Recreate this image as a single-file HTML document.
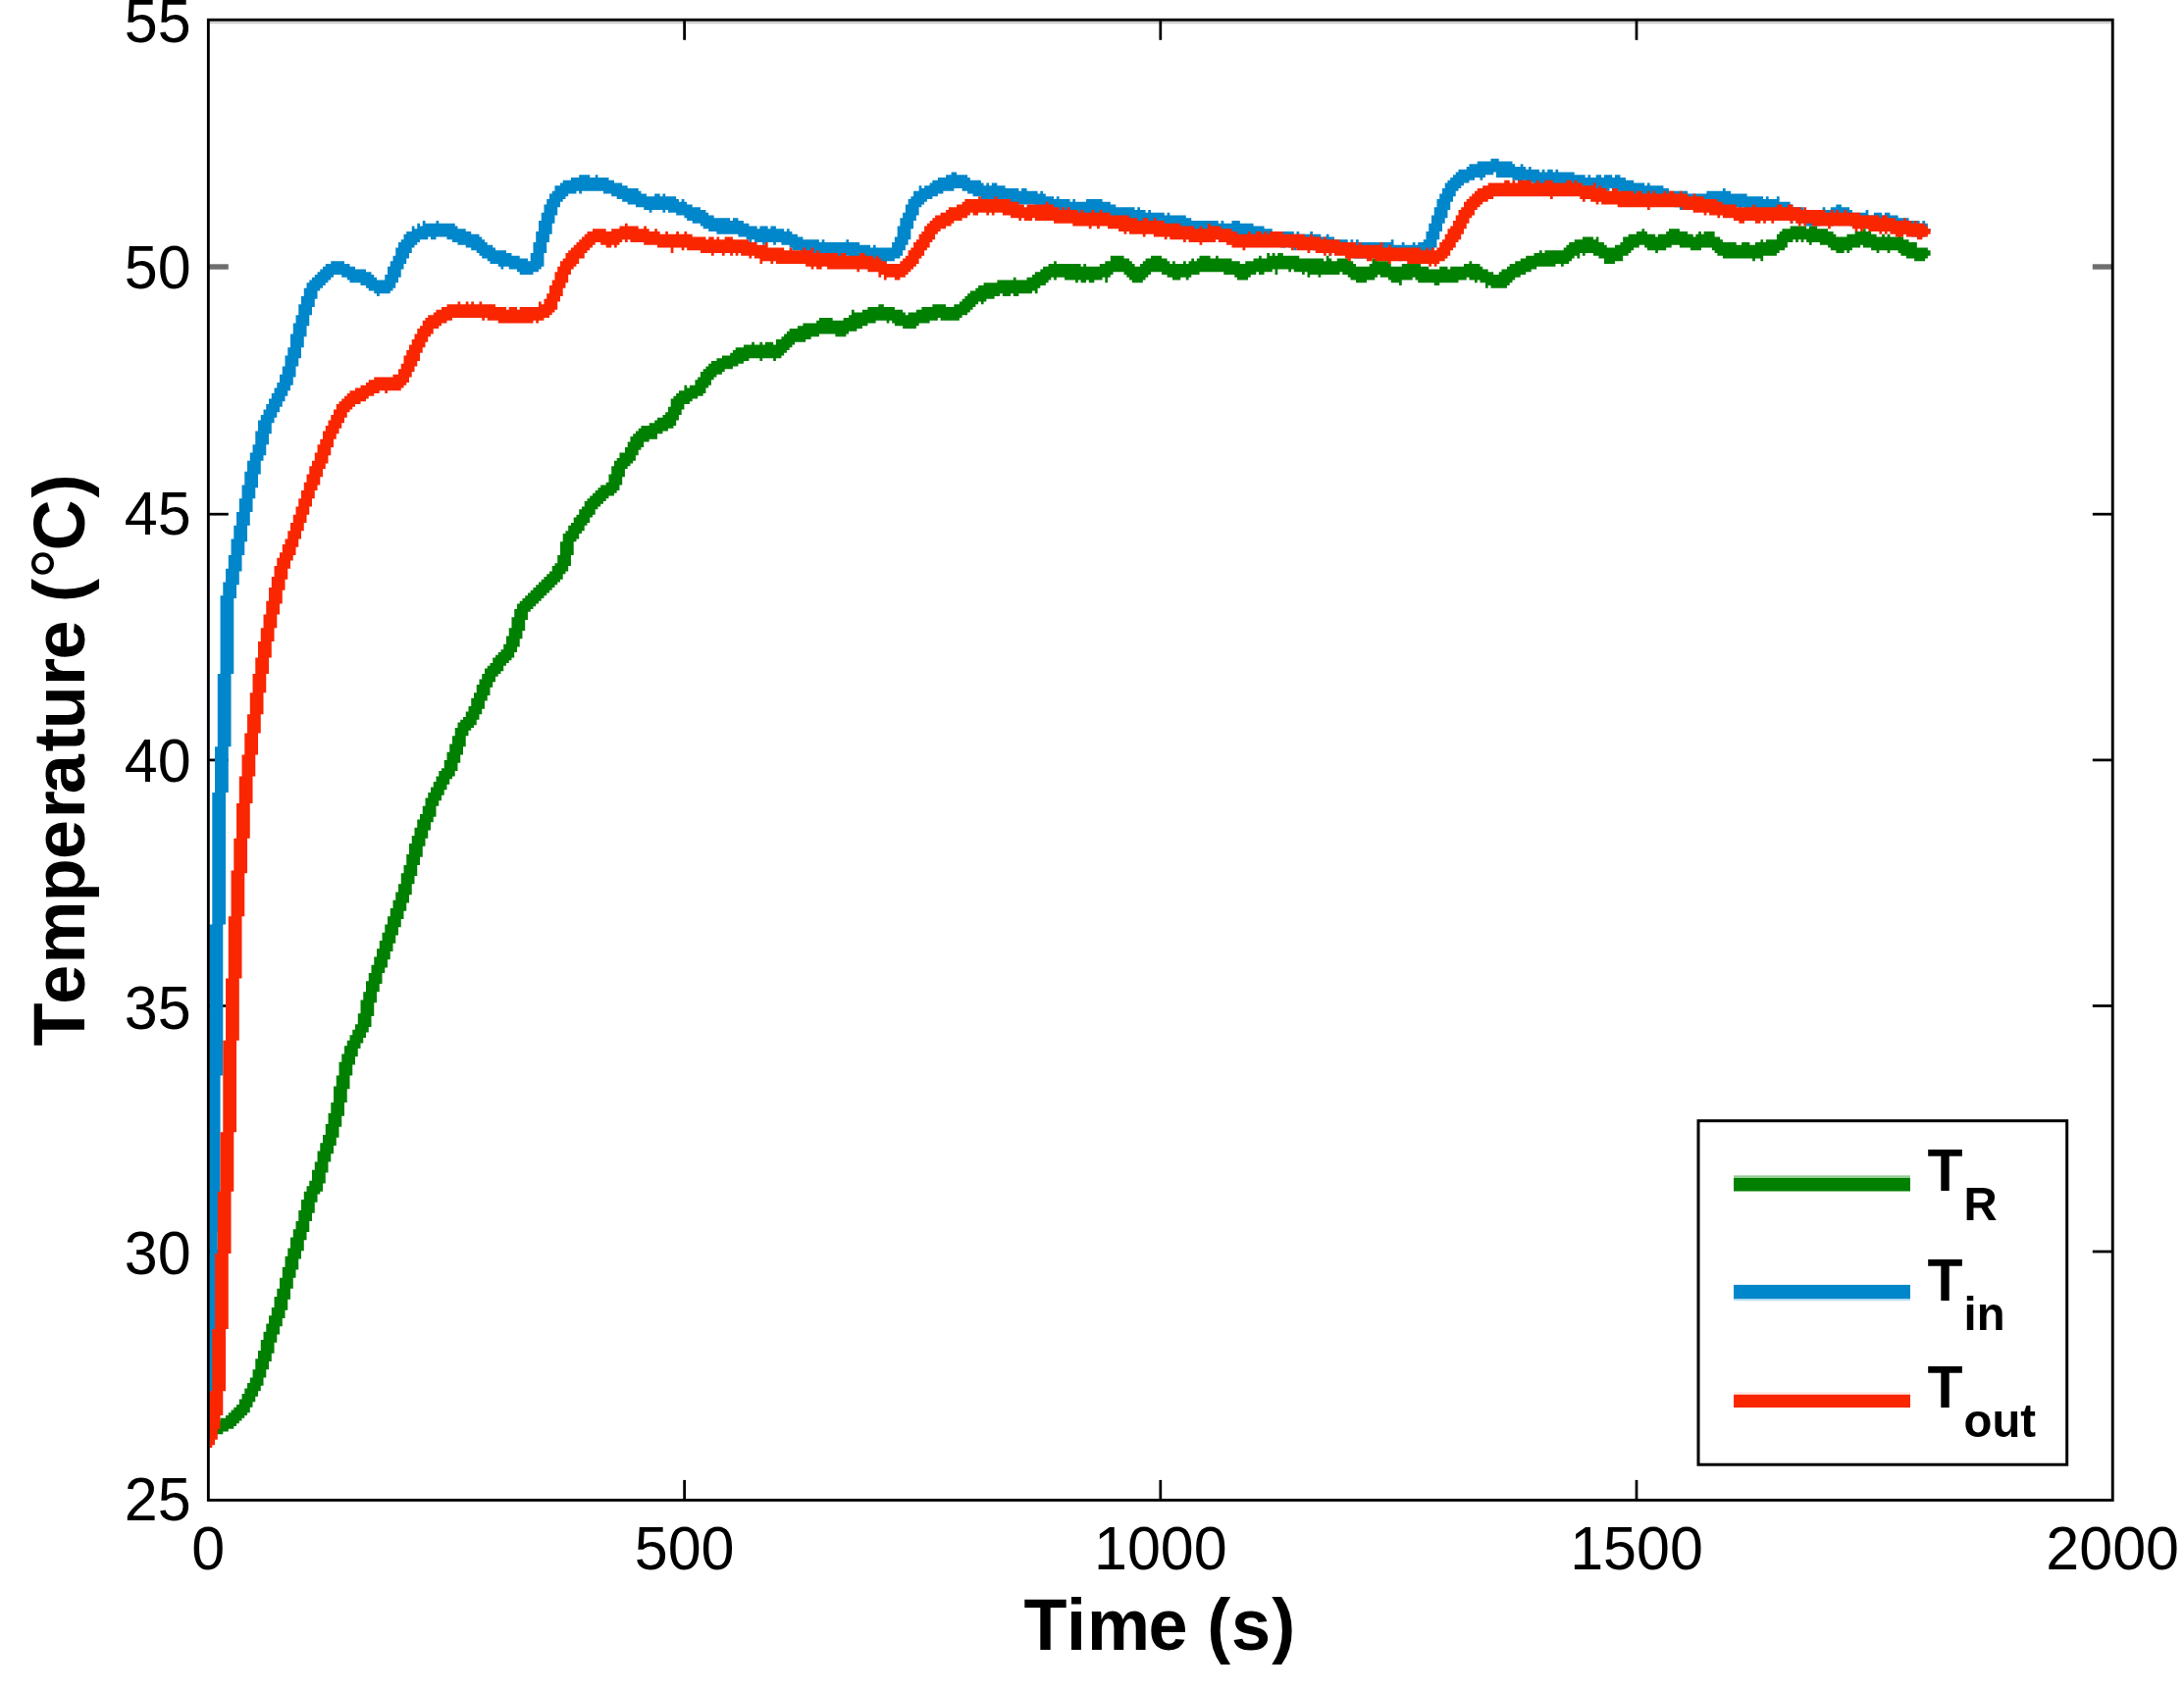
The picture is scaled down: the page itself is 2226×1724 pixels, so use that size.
<!DOCTYPE html>
<html lang="en">
<head>
<meta charset="utf-8">
<title>Temperature vs Time</title>
<style>
html,body{margin:0;padding:0;background:#fff;}
body{width:2226px;height:1724px;overflow:hidden;}
svg{display:block;}
text{font-family:"Liberation Sans",sans-serif;fill:#000;}
.tk{font-size:61px;}
.lb{font-size:72px;font-weight:bold;}
.deg{font-size:80px;font-weight:normal;}
.lg{font-size:59px;font-weight:bold;}
.sub{font-size:47.3px;font-weight:bold;}
</style>
</head>
<body>
<svg width="2226" height="1724" viewBox="0 0 2226 1724">
<defs><filter id="soft" filterUnits="userSpaceOnUse" x="0" y="0" width="2226" height="1724"><feGaussianBlur stdDeviation="0.55"/></filter></defs>
<rect x="0" y="0" width="2226" height="1724" fill="#ffffff"/>
<!-- faint shadow under top axis line -->
<line x1="213.85" y1="23.2" x2="2151.75" y2="23.2" stroke="#cacaca" stroke-width="2.1"/>
<!-- ticks -->
<g stroke="#000" stroke-width="2.75">
<line x1="212.3" y1="1276.0" x2="232.8" y2="1276.0"/><line x1="2153.2" y1="1276.0" x2="2132.8" y2="1276.0"/><line x1="212.3" y1="1025.5" x2="232.8" y2="1025.5"/><line x1="2153.2" y1="1025.5" x2="2132.8" y2="1025.5"/><line x1="212.3" y1="774.9" x2="232.8" y2="774.9"/><line x1="2153.2" y1="774.9" x2="2132.8" y2="774.9"/><line x1="212.3" y1="524.2" x2="232.8" y2="524.2"/><line x1="2153.2" y1="524.2" x2="2132.8" y2="524.2"/><line x1="697.6" y1="20.2" x2="697.6" y2="40.8"/><line x1="697.6" y1="1529.4" x2="697.6" y2="1508.9"/><line x1="1182.8" y1="20.2" x2="1182.8" y2="40.8"/><line x1="1182.8" y1="1529.4" x2="1182.8" y2="1508.9"/><line x1="1668.0" y1="20.2" x2="1668.0" y2="40.8"/><line x1="1668.0" y1="1529.4" x2="1668.0" y2="1508.9"/>
</g>
<g stroke="#6e6e6e" stroke-width="5.4"><line x1="212.3" y1="272.0" x2="232.8" y2="272.0"/><line x1="2153.2" y1="272.0" x2="2132.8" y2="272.0"/></g>
<!-- data curves -->
<g filter="url(#soft)">
<path fill="#008000" d="M213.55 1448.54V1462.29H216.29V1448.54ZM216.29 1448.54V1462.29H219.04V1448.54ZM219.04 1448.54V1462.29H221.79V1448.54ZM221.79 1448.54V1462.29H224.54V1448.54ZM224.54 1445.79V1462.29H227.29V1445.79ZM227.29 1445.79V1459.54H230.04V1445.79ZM230.04 1443.04V1459.54H232.79V1443.04ZM232.79 1440.29V1456.79H235.54V1440.29ZM235.54 1437.54V1456.79H238.29V1437.54ZM238.29 1434.79V1454.04H241.04V1434.79ZM241.04 1432.04V1451.29H243.79V1432.04ZM243.79 1426.54V1448.54H246.54V1426.54ZM246.54 1421.04V1445.79H249.29V1421.04ZM249.29 1415.54V1443.04H252.04V1415.54ZM252.04 1410.04V1440.29H254.78V1410.04ZM254.78 1404.55V1434.79H257.53V1404.55ZM257.53 1396.30V1429.29H260.28V1396.30ZM260.28 1385.30V1423.79H263.03V1385.30ZM263.03 1377.05V1418.29H265.78V1377.05ZM265.78 1366.05V1412.79H268.53V1366.05ZM268.53 1357.80V1404.55H271.28V1357.80ZM271.28 1349.55V1396.30H274.03V1349.55ZM274.03 1341.30V1388.05H276.78V1341.30ZM276.78 1333.06V1379.80H279.53V1333.06ZM279.53 1322.06V1368.80H282.28V1322.06ZM282.28 1313.81V1360.55H285.03V1313.81ZM285.03 1302.81V1352.30H287.78V1302.81ZM287.78 1291.81V1344.05H290.53V1291.81ZM290.53 1280.81V1335.81H293.28V1280.81ZM293.28 1272.56V1324.81H296.02V1272.56ZM296.02 1261.57V1313.81H298.77V1261.57ZM298.77 1253.32V1302.81H301.52V1253.32ZM301.52 1245.07V1294.56H304.27V1245.07ZM304.27 1234.07V1283.56H307.02V1234.07ZM307.02 1223.07V1275.31H309.77V1223.07ZM309.77 1214.82V1264.32H312.52V1214.82ZM312.52 1209.32V1256.07H315.27V1209.32ZM315.27 1203.82V1245.07H318.02V1203.82ZM318.02 1192.83V1236.82H320.77V1192.83ZM320.77 1184.58V1225.82H323.52V1184.58ZM323.52 1173.58V1217.57H326.27V1173.58ZM326.27 1165.33V1214.82H329.02V1165.33ZM329.02 1157.08V1206.57H331.77V1157.08ZM331.77 1146.08V1195.58H334.51V1146.08ZM334.51 1135.08V1184.58H337.26V1135.08ZM337.26 1124.09V1176.33H340.01V1124.09ZM340.01 1107.59V1168.08H342.76V1107.59ZM342.76 1096.59V1159.83H345.51V1096.59ZM345.51 1082.84V1148.83H348.26V1082.84ZM348.26 1074.59V1137.83H351.01V1074.59ZM351.01 1066.34V1124.09H353.76V1066.34ZM353.76 1060.85V1110.34H356.51V1060.85ZM356.51 1055.35V1096.59H359.26V1055.35ZM359.26 1049.85V1085.59H362.01V1049.85ZM362.01 1044.35V1077.34H364.76V1044.35ZM364.76 1033.35V1069.09H367.51V1033.35ZM367.51 1019.60V1063.60H370.26V1019.60ZM370.26 1011.35V1058.10H373.00V1011.35ZM373.00 1000.35V1052.60H375.75V1000.35ZM375.75 992.11V1047.10H378.50V992.11ZM378.50 983.86V1036.10H381.25V983.86ZM381.25 975.61V1022.35H384.00V975.61ZM384.00 967.36V1011.35H386.75V967.36ZM386.75 959.11V1003.10H389.50V959.11ZM389.50 950.86V992.11H392.25V950.86ZM392.25 942.61V986.61H395.00V942.61ZM395.00 934.36V978.36H397.75V934.36ZM397.75 926.12V970.11H400.50V926.12ZM400.50 917.87V961.86H403.25V917.87ZM403.25 909.62V953.61H406.00V909.62ZM406.00 901.37V945.36H408.75V901.37ZM408.75 890.37V937.11H411.50V890.37ZM411.50 882.12V928.86H414.24V882.12ZM414.24 871.12V920.62H416.99V871.12ZM416.99 860.12V912.37H419.74V860.12ZM419.74 851.88V901.37H422.49V851.88ZM422.49 843.63V893.12H425.24V843.63ZM425.24 835.38V882.12H427.99V835.38ZM427.99 829.88V873.87H430.74V829.88ZM430.74 821.63V862.87H433.49V821.63ZM433.49 813.38V854.63H436.24V813.38ZM436.24 807.88V846.38H438.99V807.88ZM438.99 802.38V838.13H441.74V802.38ZM441.74 796.88V832.63H444.49V796.88ZM444.49 791.38V821.63H447.24V791.38ZM447.24 785.89V816.13H449.99V785.89ZM449.99 783.14V810.63H452.73V783.14ZM452.73 774.89V805.13H455.48V774.89ZM455.48 766.64V799.63H458.23V766.64ZM458.23 758.39V794.13H460.98V758.39ZM460.98 750.14V791.38H463.73V750.14ZM463.73 741.89V785.89H466.48V741.89ZM466.48 736.39V777.64H469.23V736.39ZM469.23 733.64V769.39H471.98V733.64ZM471.98 730.89V761.14H474.73V730.89ZM474.73 725.39V750.14H477.48V725.39ZM477.48 719.90V744.64H480.23V719.90ZM480.23 711.65V741.89H482.98V711.65ZM482.98 706.15V739.14H485.73V706.15ZM485.73 697.90V733.64H488.48V697.90ZM488.48 692.40V728.14H491.22V692.40ZM491.22 686.90V722.64H493.97V686.90ZM493.97 681.40V714.40H496.72V681.40ZM496.72 678.65V708.90H499.47V678.65ZM499.47 675.90V700.65H502.22V675.90ZM502.22 670.40V695.15H504.97V670.40ZM504.97 667.65V689.65H507.72V667.65ZM507.72 664.90V686.90H510.47V664.90ZM510.47 662.15V684.15H513.22V662.15ZM513.22 656.65V678.65H515.97V656.65ZM515.97 648.41V675.90H518.72V648.41ZM518.72 640.16V673.15H521.47V640.16ZM521.47 629.16V670.40H524.22V629.16ZM524.22 620.91V664.90H526.97V620.91ZM526.97 615.41V659.40H529.71V615.41ZM529.71 612.66V651.16H532.46V612.66ZM532.46 609.91V642.91H535.21V609.91ZM535.21 607.16V631.91H537.96V607.16ZM537.96 604.41V623.66H540.71V604.41ZM540.71 601.66V620.91H543.46V601.66ZM543.46 598.91V618.16H546.21V598.91ZM546.21 596.16V615.41H548.96V596.16ZM548.96 593.41V612.66H551.71V593.41ZM551.71 590.66V609.91H554.46V590.66ZM554.46 587.91V607.16H557.21V587.91ZM557.21 585.16V604.41H559.96V585.16ZM559.96 582.42V601.66H562.71V582.42ZM562.71 576.92V598.91H565.46V576.92ZM565.46 574.17V596.16H568.21V574.17ZM568.21 565.92V593.41H570.95V565.92ZM570.95 552.17V590.66H573.70V552.17ZM573.70 543.92V585.16H576.45V543.92ZM576.45 541.17V582.42H579.20V541.17ZM579.20 535.67V576.92H581.95V535.67ZM581.95 532.92V565.92H584.70V532.92ZM584.70 527.42V552.17H587.45V527.42ZM587.45 524.67V549.42H590.20V524.67ZM590.20 519.17V543.92H592.95V519.17ZM592.95 516.42V541.17H595.70V516.42ZM595.70 510.93V535.67H598.45V510.93ZM598.45 508.18V532.92H601.20V508.18ZM601.20 505.43V527.42H603.95V505.43ZM603.95 502.68V524.67H606.70V502.68ZM606.70 499.93V519.17H609.44V499.93ZM609.44 497.18V516.42H612.19V497.18ZM612.19 494.43V513.68H614.94V494.43ZM614.94 494.43V510.93H617.69V494.43ZM617.69 491.68V508.18H620.44V491.68ZM620.44 483.43V505.43H623.19V483.43ZM623.19 475.18V505.43H625.94V475.18ZM625.94 469.68V502.68H628.69V469.68ZM628.69 466.93V499.93H631.44V466.93ZM631.44 461.43V494.43H634.19V461.43ZM634.19 461.43V486.18H636.94V461.43ZM636.94 455.93V477.93H639.69V455.93ZM639.69 450.43V475.18H642.44V450.43ZM642.44 444.94V472.43H645.19V444.94ZM645.19 442.19V469.68H647.93V442.19ZM647.93 439.44V464.18H650.68V439.44ZM650.68 436.69V458.68H653.43V436.69ZM653.43 433.94V455.93H656.18V433.94ZM656.18 433.94V450.43H658.93V433.94ZM658.93 433.94V450.43H661.68V433.94ZM661.68 431.19V447.68H664.43V431.19ZM664.43 431.19V447.68H667.18V431.19ZM667.18 428.44V447.68H669.93V428.44ZM669.93 425.69V442.19H672.68V425.69ZM672.68 425.69V442.19H675.43V425.69ZM675.43 422.94V439.44H678.18V422.94ZM678.18 420.19V439.44H680.93V420.19ZM680.93 414.69V436.69H683.68V414.69ZM683.68 406.44V436.69H686.42V406.44ZM686.42 403.69V433.94H689.17V403.69ZM689.17 400.94V428.44H691.92V400.94ZM691.92 398.19V422.94H694.67V398.19ZM694.67 398.19V417.44H697.42V398.19ZM697.42 392.69V411.94H700.17V392.69ZM700.17 395.44V411.94H702.92V395.44ZM702.92 392.69V409.19H705.67V392.69ZM705.67 392.69V406.44H708.42V392.69ZM708.42 387.19V406.44H711.17V387.19ZM711.17 384.44V403.69H713.92V384.44ZM713.92 378.94V403.69H716.67V378.94ZM716.67 376.20V400.94H719.42V376.20ZM719.42 373.45V395.44H722.17V373.45ZM722.17 370.70V392.69H724.92V370.70ZM724.92 367.95V387.19H727.66V367.95ZM727.66 367.95V384.44H730.41V367.95ZM730.41 365.20V381.69H733.16V365.20ZM733.16 365.20V381.69H735.91V365.20ZM735.91 362.45V378.94H738.66V362.45ZM738.66 362.45V376.20H741.41V362.45ZM741.41 362.45V376.20H744.16V362.45ZM744.16 359.70V376.20H746.91V359.70ZM746.91 356.95V373.45H749.66V356.95ZM749.66 354.20V373.45H752.41V354.20ZM752.41 354.20V370.70H755.16V354.20ZM755.16 354.20V370.70H757.91V354.20ZM757.91 351.45V367.95H760.66V351.45ZM760.66 351.45V367.95H763.41V351.45ZM763.41 351.45V365.20H766.15V351.45ZM766.15 348.70V365.20H768.90V348.70ZM768.90 351.45V365.20H771.65V351.45ZM771.65 351.45V365.20H774.40V351.45ZM774.40 348.70V367.95H777.15V348.70ZM777.15 351.45V365.20H779.90V351.45ZM779.90 348.70V365.20H782.65V348.70ZM782.65 348.70V365.20H785.40V348.70ZM785.40 348.70V365.20H788.15V348.70ZM788.15 351.45V367.95H790.90V351.45ZM790.90 345.95V365.20H793.65V345.95ZM793.65 345.95V365.20H796.40V345.95ZM796.40 343.20V362.45H799.15V343.20ZM799.15 340.45V359.70H801.90V340.45ZM801.90 337.70V356.95H804.64V337.70ZM804.64 334.95V354.20H807.39V334.95ZM807.39 334.95V351.45H810.14V334.95ZM810.14 334.95V348.70H812.89V334.95ZM812.89 332.20V348.70H815.64V332.20ZM815.64 332.20V348.70H818.39V332.20ZM818.39 329.45V348.70H821.14V329.45ZM821.14 329.45V345.95H823.89V329.45ZM823.89 329.45V345.95H826.64V329.45ZM826.64 329.45V343.20H829.39V329.45ZM829.39 329.45V343.20H832.14V329.45ZM832.14 326.70V343.20H834.89V326.70ZM834.89 323.95V340.45H837.64V323.95ZM837.64 323.95V340.45H840.39V323.95ZM840.39 323.95V340.45H843.14V323.95ZM843.14 323.95V340.45H845.88V323.95ZM845.88 323.95V340.45H848.63V323.95ZM848.63 326.70V340.45H851.38V326.70ZM851.38 326.70V343.20H854.13V326.70ZM854.13 326.70V343.20H856.88V326.70ZM856.88 326.70V343.20H859.63V326.70ZM859.63 323.95V343.20H862.38V323.95ZM862.38 323.95V340.45H865.13V323.95ZM865.13 321.20V337.70H867.88V321.20ZM867.88 315.70V337.70H870.63V315.70ZM870.63 318.45V337.70H873.38V318.45ZM873.38 318.45V334.95H876.13V318.45ZM876.13 318.45V334.95H878.88V318.45ZM878.88 315.70V332.20H881.63V315.70ZM881.63 315.70V332.20H884.37V315.70ZM884.37 312.95V329.45H887.12V312.95ZM887.12 312.95V329.45H889.87V312.95ZM889.87 312.95V329.45H892.62V312.95ZM892.62 312.95V326.70H895.37V312.95ZM895.37 310.20V326.70H898.12V310.20ZM898.12 310.20V326.70H900.87V310.20ZM900.87 312.95V326.70H903.62V312.95ZM903.62 312.95V329.45H906.37V312.95ZM906.37 312.95V326.70H909.12V312.95ZM909.12 312.95V329.45H911.87V312.95ZM911.87 315.70V332.20H914.62V315.70ZM914.62 315.70V332.20H917.37V315.70ZM917.37 315.70V332.20H920.12V315.70ZM920.12 318.45V334.95H922.86V318.45ZM922.86 321.20V334.95H925.61V321.20ZM925.61 318.45V334.95H928.36V318.45ZM928.36 318.45V334.95H931.11V318.45ZM931.11 318.45V334.95H933.86V318.45ZM933.86 315.70V332.20H936.61V315.70ZM936.61 315.70V329.45H939.36V315.70ZM939.36 312.95V329.45H942.11V312.95ZM942.11 312.95V329.45H944.86V312.95ZM944.86 312.95V329.45H947.61V312.95ZM947.61 312.95V326.70H950.36V312.95ZM950.36 310.20V326.70H953.11V310.20ZM953.11 310.20V326.70H955.86V310.20ZM955.86 310.20V323.95H958.61V310.20ZM958.61 310.20V326.70H961.36V310.20ZM961.36 310.20V326.70H964.10V310.20ZM964.10 312.95V326.70H966.85V312.95ZM966.85 312.95V326.70H969.60V312.95ZM969.60 312.95V326.70H972.35V312.95ZM972.35 310.20V326.70H975.10V310.20ZM975.10 310.20V326.70H977.85V310.20ZM977.85 307.46V323.95H980.60V307.46ZM980.60 304.71V321.20H983.35V304.71ZM983.35 301.96V321.20H986.10V301.96ZM986.10 299.21V318.45H988.85V299.21ZM988.85 296.46V315.70H991.60V296.46ZM991.60 296.46V312.95H994.35V296.46ZM994.35 293.71V310.20H997.10V293.71ZM997.10 290.96V307.46H999.85V290.96ZM999.85 290.96V310.20H1002.59V290.96ZM1002.59 288.21V307.46H1005.34V288.21ZM1005.34 288.21V304.71H1008.09V288.21ZM1008.09 288.21V304.71H1010.84V288.21ZM1010.84 288.21V304.71H1013.59V288.21ZM1013.59 288.21V301.96H1016.34V288.21ZM1016.34 285.46V301.96H1019.09V285.46ZM1019.09 285.46V299.21H1021.84V285.46ZM1021.84 285.46V301.96H1024.59V285.46ZM1024.59 285.46V301.96H1027.34V285.46ZM1027.34 285.46V301.96H1030.09V285.46ZM1030.09 285.46V299.21H1032.84V285.46ZM1032.84 282.71V301.96H1035.59V282.71ZM1035.59 285.46V301.96H1038.34V285.46ZM1038.34 285.46V299.21H1041.08V285.46ZM1041.08 285.46V299.21H1043.83V285.46ZM1043.83 285.46V299.21H1046.58V285.46ZM1046.58 282.71V299.21H1049.33V282.71ZM1049.33 282.71V299.21H1052.08V282.71ZM1052.08 279.96V296.46H1054.83V279.96ZM1054.83 277.21V299.21H1057.58V277.21ZM1057.58 277.21V293.71H1060.33V277.21ZM1060.33 274.46V290.96H1063.08V274.46ZM1063.08 271.71V290.96H1065.83V271.71ZM1065.83 271.71V288.21H1068.58V271.71ZM1068.58 268.96V285.46H1071.33V268.96ZM1071.33 268.96V282.71H1074.08V268.96ZM1074.08 266.21V285.46H1076.83V266.21ZM1076.83 268.96V282.71H1079.57V268.96ZM1079.57 268.96V282.71H1082.32V268.96ZM1082.32 268.96V282.71H1085.07V268.96ZM1085.07 268.96V285.46H1087.82V268.96ZM1087.82 268.96V285.46H1090.57V268.96ZM1090.57 268.96V285.46H1093.32V268.96ZM1093.32 268.96V285.46H1096.07V268.96ZM1096.07 268.96V288.21H1098.82V268.96ZM1098.82 268.96V285.46H1101.57V268.96ZM1101.57 271.71V288.21H1104.32V271.71ZM1104.32 268.96V288.21H1107.07V268.96ZM1107.07 271.71V285.46H1109.82V271.71ZM1109.82 271.71V288.21H1112.57V271.71ZM1112.57 271.71V288.21H1115.32V271.71ZM1115.32 271.71V285.46H1118.07V271.71ZM1118.07 271.71V285.46H1120.81V271.71ZM1120.81 268.96V285.46H1123.56V268.96ZM1123.56 268.96V282.71H1126.31V268.96ZM1126.31 266.21V288.21H1129.06V266.21ZM1129.06 266.21V282.71H1131.81V266.21ZM1131.81 260.71V279.96H1134.56V260.71ZM1134.56 260.71V277.21H1137.31V260.71ZM1137.31 260.71V277.21H1140.06V260.71ZM1140.06 260.71V277.21H1142.81V260.71ZM1142.81 260.71V277.21H1145.56V260.71ZM1145.56 263.46V279.96H1148.31V263.46ZM1148.31 263.46V282.71H1151.06V263.46ZM1151.06 266.21V285.46H1153.81V266.21ZM1153.81 268.96V288.21H1156.56V268.96ZM1156.56 271.71V288.21H1159.30V271.71ZM1159.30 271.71V288.21H1162.05V271.71ZM1162.05 268.96V288.21H1164.80V268.96ZM1164.80 266.21V285.46H1167.55V266.21ZM1167.55 263.46V282.71H1170.30V263.46ZM1170.30 263.46V279.96H1173.05V263.46ZM1173.05 260.71V277.21H1175.80V260.71ZM1175.80 260.71V277.21H1178.55V260.71ZM1178.55 260.71V277.21H1181.30V260.71ZM1181.30 260.71V277.21H1184.05V260.71ZM1184.05 263.46V279.96H1186.80V263.46ZM1186.80 263.46V279.96H1189.55V263.46ZM1189.55 266.21V282.71H1192.30V266.21ZM1192.30 268.96V282.71H1195.05V268.96ZM1195.05 266.21V285.46H1197.79V266.21ZM1197.79 268.96V285.46H1200.54V268.96ZM1200.54 268.96V285.46H1203.29V268.96ZM1203.29 268.96V282.71H1206.04V268.96ZM1206.04 266.21V282.71H1208.79V266.21ZM1208.79 268.96V285.46H1211.54V268.96ZM1211.54 266.21V282.71H1214.29V266.21ZM1214.29 263.46V279.96H1217.04V263.46ZM1217.04 266.21V279.96H1219.79V266.21ZM1219.79 263.46V279.96H1222.54V263.46ZM1222.54 260.71V277.21H1225.29V260.71ZM1225.29 260.71V277.21H1228.04V260.71ZM1228.04 260.71V277.21H1230.79V260.71ZM1230.79 260.71V277.21H1233.54V260.71ZM1233.54 263.46V277.21H1236.28V263.46ZM1236.28 263.46V277.21H1239.03V263.46ZM1239.03 260.71V277.21H1241.78V260.71ZM1241.78 263.46V277.21H1244.53V263.46ZM1244.53 263.46V277.21H1247.28V263.46ZM1247.28 263.46V279.96H1250.03V263.46ZM1250.03 263.46V279.96H1252.78V263.46ZM1252.78 263.46V279.96H1255.53V263.46ZM1255.53 266.21V279.96H1258.28V266.21ZM1258.28 266.21V282.71H1261.03V266.21ZM1261.03 266.21V285.46H1263.78V266.21ZM1263.78 268.96V285.46H1266.53V268.96ZM1266.53 268.96V285.46H1269.28V268.96ZM1269.28 266.21V285.46H1272.03V266.21ZM1272.03 266.21V282.71H1274.78V266.21ZM1274.78 266.21V279.96H1277.52V266.21ZM1277.52 263.46V279.96H1280.27V263.46ZM1280.27 263.46V277.21H1283.02V263.46ZM1283.02 260.71V279.96H1285.77V260.71ZM1285.77 263.46V279.96H1288.52V263.46ZM1288.52 263.46V277.21H1291.27V263.46ZM1291.27 257.96V277.21H1294.02V257.96ZM1294.02 260.71V277.21H1296.77V260.71ZM1296.77 257.96V274.46H1299.52V257.96ZM1299.52 260.71V279.96H1302.27V260.71ZM1302.27 257.96V274.46H1305.02V257.96ZM1305.02 257.96V274.46H1307.77V257.96ZM1307.77 260.71V274.46H1310.52V260.71ZM1310.52 260.71V274.46H1313.27V260.71ZM1313.27 260.71V277.21H1316.01V260.71ZM1316.01 260.71V274.46H1318.76V260.71ZM1318.76 260.71V277.21H1321.51V260.71ZM1321.51 260.71V277.21H1324.26V260.71ZM1324.26 263.46V277.21H1327.01V263.46ZM1327.01 263.46V279.96H1329.76V263.46ZM1329.76 263.46V277.21H1332.51V263.46ZM1332.51 263.46V282.71H1335.26V263.46ZM1335.26 263.46V279.96H1338.01V263.46ZM1338.01 263.46V279.96H1340.76V263.46ZM1340.76 263.46V279.96H1343.51V263.46ZM1343.51 263.46V282.71H1346.26V263.46ZM1346.26 263.46V279.96H1349.01V263.46ZM1349.01 266.21V279.96H1351.76V266.21ZM1351.76 260.71V279.96H1354.50V260.71ZM1354.50 263.46V279.96H1357.25V263.46ZM1357.25 266.21V279.96H1360.00V266.21ZM1360.00 266.21V279.96H1362.75V266.21ZM1362.75 263.46V279.96H1365.50V263.46ZM1365.50 263.46V277.21H1368.25V263.46ZM1368.25 263.46V279.96H1371.00V263.46ZM1371.00 263.46V279.96H1373.75V263.46ZM1373.75 263.46V282.71H1376.50V263.46ZM1376.50 266.21V285.46H1379.25V266.21ZM1379.25 268.96V285.46H1382.00V268.96ZM1382.00 271.71V288.21H1384.75V271.71ZM1384.75 271.71V288.21H1387.50V271.71ZM1387.50 271.71V288.21H1390.25V271.71ZM1390.25 271.71V288.21H1393.00V271.71ZM1393.00 271.71V285.46H1395.74V271.71ZM1395.74 268.96V285.46H1398.49V268.96ZM1398.49 263.46V285.46H1401.24V263.46ZM1401.24 263.46V282.71H1403.99V263.46ZM1403.99 266.21V279.96H1406.74V266.21ZM1406.74 266.21V282.71H1409.49V266.21ZM1409.49 266.21V282.71H1412.24V266.21ZM1412.24 266.21V282.71H1414.99V266.21ZM1414.99 268.96V285.46H1417.74V268.96ZM1417.74 271.71V288.21H1420.49V271.71ZM1420.49 271.71V288.21H1423.24V271.71ZM1423.24 271.71V288.21H1425.99V271.71ZM1425.99 271.71V290.96H1428.74V271.71ZM1428.74 268.96V285.46H1431.49V268.96ZM1431.49 268.96V285.46H1434.23V268.96ZM1434.23 268.96V285.46H1436.98V268.96ZM1436.98 268.96V285.46H1439.73V268.96ZM1439.73 268.96V282.71H1442.48V268.96ZM1442.48 268.96V285.46H1445.23V268.96ZM1445.23 268.96V288.21H1447.98V268.96ZM1447.98 271.71V288.21H1450.73V271.71ZM1450.73 271.71V288.21H1453.48V271.71ZM1453.48 271.71V288.21H1456.23V271.71ZM1456.23 274.46V288.21H1458.98V274.46ZM1458.98 274.46V288.21H1461.73V274.46ZM1461.73 274.46V290.96H1464.48V274.46ZM1464.48 274.46V290.96H1467.23V274.46ZM1467.23 271.71V288.21H1469.98V271.71ZM1469.98 271.71V288.21H1472.72V271.71ZM1472.72 271.71V288.21H1475.47V271.71ZM1475.47 274.46V288.21H1478.22V274.46ZM1478.22 271.71V288.21H1480.97V271.71ZM1480.97 271.71V288.21H1483.72V271.71ZM1483.72 271.71V288.21H1486.47V271.71ZM1486.47 271.71V285.46H1489.22V271.71ZM1489.22 271.71V285.46H1491.97V271.71ZM1491.97 268.96V285.46H1494.72V268.96ZM1494.72 268.96V282.71H1497.47V268.96ZM1497.47 266.21V285.46H1500.22V266.21ZM1500.22 268.96V285.46H1502.97V268.96ZM1502.97 268.96V288.21H1505.72V268.96ZM1505.72 268.96V285.46H1508.47V268.96ZM1508.47 271.71V288.21H1511.21V271.71ZM1511.21 274.46V288.21H1513.96V274.46ZM1513.96 274.46V293.71H1516.71V274.46ZM1516.71 277.21V290.96H1519.46V277.21ZM1519.46 277.21V293.71H1522.21V277.21ZM1522.21 279.96V293.71H1524.96V279.96ZM1524.96 279.96V293.71H1527.71V279.96ZM1527.71 277.21V293.71H1530.46V277.21ZM1530.46 274.46V293.71H1533.21V274.46ZM1533.21 274.46V293.71H1535.96V274.46ZM1535.96 271.71V290.96H1538.71V271.71ZM1538.71 268.96V288.21H1541.46V268.96ZM1541.46 268.96V285.46H1544.21V268.96ZM1544.21 266.21V282.71H1546.96V266.21ZM1546.96 266.21V282.71H1549.71V266.21ZM1549.71 263.46V279.96H1552.45V263.46ZM1552.45 263.46V279.96H1555.20V263.46ZM1555.20 260.71V277.21H1557.95V260.71ZM1557.95 260.71V277.21H1560.70V260.71ZM1560.70 260.71V274.46H1563.45V260.71ZM1563.45 257.96V274.46H1566.20V257.96ZM1566.20 257.96V271.71H1568.95V257.96ZM1568.95 255.21V271.71H1571.70V255.21ZM1571.70 257.96V271.71H1574.45V257.96ZM1574.45 255.21V271.71H1577.20V255.21ZM1577.20 255.21V271.71H1579.95V255.21ZM1579.95 255.21V271.71H1582.70V255.21ZM1582.70 255.21V271.71H1585.45V255.21ZM1585.45 255.21V268.96H1588.20V255.21ZM1588.20 255.21V268.96H1590.94V255.21ZM1590.94 255.21V271.71H1593.69V255.21ZM1593.69 252.46V268.96H1596.44V252.46ZM1596.44 249.71V268.96H1599.19V249.71ZM1599.19 246.96V266.21H1601.94V246.96ZM1601.94 246.96V263.46H1604.69V246.96ZM1604.69 244.21V260.71H1607.44V244.21ZM1607.44 244.21V263.46H1610.19V244.21ZM1610.19 244.21V257.96H1612.94V244.21ZM1612.94 241.46V260.71H1615.69V241.46ZM1615.69 241.46V257.96H1618.44V241.46ZM1618.44 241.46V257.96H1621.19V241.46ZM1621.19 241.46V257.96H1623.94V241.46ZM1623.94 244.21V260.71H1626.69V244.21ZM1626.69 241.46V260.71H1629.43V241.46ZM1629.43 246.96V263.46H1632.18V246.96ZM1632.18 246.96V263.46H1634.93V246.96ZM1634.93 249.71V268.96H1637.68V249.71ZM1637.68 252.46V268.96H1640.43V252.46ZM1640.43 252.46V268.96H1643.18V252.46ZM1643.18 252.46V268.96H1645.93V252.46ZM1645.93 249.71V266.21H1648.68V249.71ZM1648.68 249.71V266.21H1651.43V249.71ZM1651.43 246.96V266.21H1654.18V246.96ZM1654.18 241.46V260.71H1656.93V241.46ZM1656.93 241.46V260.71H1659.68V241.46ZM1659.68 238.72V257.96H1662.43V238.72ZM1662.43 238.72V255.21H1665.18V238.72ZM1665.18 238.72V252.46H1667.93V238.72ZM1667.93 235.97V252.46H1670.67V235.97ZM1670.67 235.97V249.71H1673.42V235.97ZM1673.42 233.22V249.71H1676.17V233.22ZM1676.17 235.97V252.46H1678.92V235.97ZM1678.92 238.72V255.21H1681.67V238.72ZM1681.67 238.72V255.21H1684.42V238.72ZM1684.42 238.72V255.21H1687.17V238.72ZM1687.17 241.46V257.96H1689.92V241.46ZM1689.92 238.72V255.21H1692.67V238.72ZM1692.67 238.72V255.21H1695.42V238.72ZM1695.42 238.72V255.21H1698.17V238.72ZM1698.17 235.97V252.46H1700.92V235.97ZM1700.92 233.22V252.46H1703.67V233.22ZM1703.67 233.22V249.71H1706.42V233.22ZM1706.42 233.22V249.71H1709.16V233.22ZM1709.16 233.22V249.71H1711.91V233.22ZM1711.91 235.97V252.46H1714.66V235.97ZM1714.66 235.97V252.46H1717.41V235.97ZM1717.41 235.97V252.46H1720.16V235.97ZM1720.16 238.72V252.46H1722.91V238.72ZM1722.91 238.72V255.21H1725.66V238.72ZM1725.66 241.46V255.21H1728.41V241.46ZM1728.41 238.72V255.21H1731.16V238.72ZM1731.16 235.97V255.21H1733.91V235.97ZM1733.91 238.72V252.46H1736.66V238.72ZM1736.66 235.97V252.46H1739.41V235.97ZM1739.41 235.97V252.46H1742.16V235.97ZM1742.16 235.97V252.46H1744.91V235.97ZM1744.91 235.97V255.21H1747.65V235.97ZM1747.65 241.46V257.96H1750.40V241.46ZM1750.40 241.46V260.71H1753.15V241.46ZM1753.15 244.21V260.71H1755.90V244.21ZM1755.90 246.96V263.46H1758.65V246.96ZM1758.65 246.96V263.46H1761.40V246.96ZM1761.40 246.96V263.46H1764.15V246.96ZM1764.15 246.96V263.46H1766.90V246.96ZM1766.90 246.96V263.46H1769.65V246.96ZM1769.65 249.71V263.46H1772.40V249.71ZM1772.40 249.71V263.46H1775.15V249.71ZM1775.15 246.96V263.46H1777.90V246.96ZM1777.90 246.96V263.46H1780.65V246.96ZM1780.65 246.96V263.46H1783.40V246.96ZM1783.40 249.71V263.46H1786.14V249.71ZM1786.14 249.71V266.21H1788.89V249.71ZM1788.89 246.96V263.46H1791.64V246.96ZM1791.64 246.96V263.46H1794.39V246.96ZM1794.39 244.21V266.21H1797.14V244.21ZM1797.14 246.96V260.71H1799.89V246.96ZM1799.89 244.21V260.71H1802.64V244.21ZM1802.64 244.21V260.71H1805.39V244.21ZM1805.39 244.21V260.71H1808.14V244.21ZM1808.14 244.21V260.71H1810.89V244.21ZM1810.89 238.72V257.96H1813.64V238.72ZM1813.64 235.97V255.21H1816.39V235.97ZM1816.39 233.22V255.21H1819.14V233.22ZM1819.14 233.22V252.46H1821.89V233.22ZM1821.89 233.22V246.96H1824.64V233.22ZM1824.64 230.47V246.96H1827.38V230.47ZM1827.38 230.47V244.21H1830.13V230.47ZM1830.13 230.47V246.96H1832.88V230.47ZM1832.88 230.47V244.21H1835.63V230.47ZM1835.63 230.47V246.96H1838.38V230.47ZM1838.38 230.47V244.21H1841.13V230.47ZM1841.13 233.22V246.96H1843.88V233.22ZM1843.88 230.47V249.71H1846.63V230.47ZM1846.63 230.47V246.96H1849.38V230.47ZM1849.38 230.47V246.96H1852.13V230.47ZM1852.13 233.22V246.96H1854.88V233.22ZM1854.88 233.22V249.71H1857.63V233.22ZM1857.63 233.22V249.71H1860.38V233.22ZM1860.38 233.22V249.71H1863.13V233.22ZM1863.13 235.97V252.46H1865.87V235.97ZM1865.87 235.97V255.21H1868.62V235.97ZM1868.62 238.72V255.21H1871.37V238.72ZM1871.37 241.46V257.96H1874.12V241.46ZM1874.12 241.46V257.96H1876.87V241.46ZM1876.87 241.46V257.96H1879.62V241.46ZM1879.62 241.46V255.21H1882.37V241.46ZM1882.37 238.72V257.96H1885.12V238.72ZM1885.12 238.72V255.21H1887.87V238.72ZM1887.87 238.72V252.46H1890.62V238.72ZM1890.62 235.97V252.46H1893.37V235.97ZM1893.37 235.97V252.46H1896.12V235.97ZM1896.12 235.97V249.71H1898.87V235.97ZM1898.87 233.22V252.46H1901.62V233.22ZM1901.62 235.97V252.46H1904.36V235.97ZM1904.36 235.97V252.46H1907.11V235.97ZM1907.11 238.72V255.21H1909.86V238.72ZM1909.86 238.72V255.21H1912.61V238.72ZM1912.61 241.46V257.96H1915.36V241.46ZM1915.36 241.46V255.21H1918.11V241.46ZM1918.11 238.72V255.21H1920.86V238.72ZM1920.86 241.46V255.21H1923.61V241.46ZM1923.61 238.72V257.96H1926.36V238.72ZM1926.36 241.46V255.21H1929.11V241.46ZM1929.11 241.46V255.21H1931.86V241.46ZM1931.86 241.46V255.21H1934.61V241.46ZM1934.61 238.72V257.96H1937.36V238.72ZM1937.36 241.46V260.71H1940.11V241.46ZM1940.11 244.21V260.71H1942.86V244.21ZM1942.86 244.21V263.46H1945.60V244.21ZM1945.60 246.96V263.46H1948.35V246.96ZM1948.35 246.96V263.46H1951.10V246.96ZM1951.10 246.96V266.21H1953.85V246.96ZM1953.85 252.46V266.21H1956.60V252.46ZM1956.60 252.46V266.21H1959.35V252.46ZM1959.35 252.46V266.21H1962.10V252.46ZM1962.10 252.46V263.46H1964.85V252.46ZM1964.85 255.21V260.71H1967.60V255.21Z"/>
<path fill="#0086CA" d="M213.55 942.61V1467.79H216.29V942.61ZM216.29 807.88V1465.04H219.04V807.88ZM219.04 761.14V1410.04H221.79V761.14ZM221.79 686.90V1256.07H224.54V686.90ZM224.54 607.16V1096.59H227.29V607.16ZM227.29 593.41V942.61H230.04V593.41ZM230.04 579.67V807.88H232.79V579.67ZM232.79 565.92V761.14H235.54V565.92ZM235.54 549.42V686.90H238.29V549.42ZM238.29 535.67V609.91H241.04V535.67ZM241.04 521.92V596.16H243.79V521.92ZM243.79 508.18V582.42H246.54V508.18ZM246.54 494.43V565.92H249.29V494.43ZM249.29 480.68V552.17H252.04V480.68ZM252.04 469.68V535.67H254.78V469.68ZM254.78 461.43V521.92H257.53V461.43ZM257.53 453.18V508.18H260.28V453.18ZM260.28 439.44V497.18H263.03V439.44ZM263.03 428.44V483.43H265.78V428.44ZM265.78 422.94V469.68H268.53V422.94ZM268.53 417.44V464.18H271.28V417.44ZM271.28 411.94V453.18H274.03V411.94ZM274.03 406.44V442.19H276.78V406.44ZM276.78 400.94V431.19H279.53V400.94ZM279.53 395.44V425.69H282.28V395.44ZM282.28 389.94V420.19H285.03V389.94ZM285.03 381.69V414.69H287.78V381.69ZM287.78 373.45V409.19H290.53V373.45ZM290.53 362.45V403.69H293.28V362.45ZM293.28 354.20V398.19H296.02V354.20ZM296.02 340.45V392.69H298.77V340.45ZM298.77 329.45V384.44H301.52V329.45ZM301.52 321.20V373.45H304.27V321.20ZM304.27 310.20V365.20H307.02V310.20ZM307.02 301.96V354.20H309.77V301.96ZM309.77 293.71V343.20H312.52V293.71ZM312.52 288.21V332.20H315.27V288.21ZM315.27 285.46V321.20H318.02V285.46ZM318.02 282.71V312.95H320.77V282.71ZM320.77 279.96V304.71H323.52V279.96ZM323.52 277.21V296.46H326.27V277.21ZM326.27 274.46V293.71H329.02V274.46ZM329.02 271.71V290.96H331.77V271.71ZM331.77 268.96V288.21H334.51V268.96ZM334.51 268.96V285.46H337.26V268.96ZM337.26 266.21V282.71H340.01V266.21ZM340.01 266.21V279.96H342.76V266.21ZM342.76 266.21V279.96H345.51V266.21ZM345.51 266.21V279.96H348.26V266.21ZM348.26 266.21V282.71H351.01V266.21ZM351.01 268.96V282.71H353.76V268.96ZM353.76 268.96V285.46H356.51V268.96ZM356.51 271.71V288.21H359.26V271.71ZM359.26 271.71V288.21H362.01V271.71ZM362.01 274.46V288.21H364.76V274.46ZM364.76 274.46V288.21H367.51V274.46ZM367.51 274.46V290.96H370.26V274.46ZM370.26 274.46V290.96H373.00V274.46ZM373.00 277.21V293.71H375.75V277.21ZM375.75 277.21V296.46H378.50V277.21ZM378.50 279.96V296.46H381.25V279.96ZM381.25 282.71V299.21H384.00V282.71ZM384.00 285.46V301.96H386.75V285.46ZM386.75 285.46V299.21H389.50V285.46ZM389.50 285.46V299.21H392.25V285.46ZM392.25 279.96V299.21H395.00V279.96ZM395.00 271.71V299.21H397.75V271.71ZM397.75 266.21V296.46H400.50V266.21ZM400.50 260.71V293.71H403.25V260.71ZM403.25 252.46V288.21H406.00V252.46ZM406.00 246.96V282.71H408.75V246.96ZM408.75 244.21V274.46H411.50V244.21ZM411.50 238.72V268.96H414.24V238.72ZM414.24 235.97V263.46H416.99V235.97ZM416.99 235.97V257.96H419.74V235.97ZM419.74 230.47V252.46H422.49V230.47ZM422.49 233.22V249.71H425.24V233.22ZM425.24 227.72V246.96H427.99V227.72ZM427.99 230.47V244.21H430.74V230.47ZM430.74 224.97V244.21H433.49V224.97ZM433.49 227.72V244.21H436.24V227.72ZM436.24 227.72V241.46H438.99V227.72ZM438.99 227.72V244.21H441.74V227.72ZM441.74 227.72V244.21H444.49V227.72ZM444.49 224.97V241.46H447.24V224.97ZM447.24 227.72V241.46H449.99V227.72ZM449.99 227.72V241.46H452.73V227.72ZM452.73 227.72V241.46H455.48V227.72ZM455.48 227.72V244.21H458.23V227.72ZM458.23 227.72V244.21H460.98V227.72ZM460.98 227.72V246.96H463.73V227.72ZM463.73 230.47V246.96H466.48V230.47ZM466.48 233.22V249.71H469.23V233.22ZM469.23 233.22V249.71H471.98V233.22ZM471.98 233.22V249.71H474.73V233.22ZM474.73 235.97V252.46H477.48V235.97ZM477.48 235.97V252.46H480.23V235.97ZM480.23 238.72V255.21H482.98V238.72ZM482.98 238.72V255.21H485.73V238.72ZM485.73 238.72V257.96H488.48V238.72ZM488.48 241.46V260.71H491.22V241.46ZM491.22 244.21V263.46H493.97V244.21ZM493.97 246.96V263.46H496.72V246.96ZM496.72 249.71V266.21H499.47V249.71ZM499.47 249.71V268.96H502.22V249.71ZM502.22 252.46V268.96H504.97V252.46ZM504.97 255.21V268.96H507.72V255.21ZM507.72 255.21V271.71H510.47V255.21ZM510.47 255.21V274.46H513.22V255.21ZM513.22 255.21V271.71H515.97V255.21ZM515.97 257.96V271.71H518.72V257.96ZM518.72 257.96V274.46H521.47V257.96ZM521.47 260.71V274.46H524.22V260.71ZM524.22 260.71V274.46H526.97V260.71ZM526.97 260.71V277.21H529.71V260.71ZM529.71 263.46V279.96H532.46V263.46ZM532.46 263.46V279.96H535.21V263.46ZM535.21 263.46V279.96H537.96V263.46ZM537.96 266.21V279.96H540.71V266.21ZM540.71 257.96V279.96H543.46V257.96ZM543.46 246.96V277.21H546.21V246.96ZM546.21 235.97V277.21H548.96V235.97ZM548.96 224.97V274.46H551.71V224.97ZM551.71 216.72V271.71H554.46V216.72ZM554.46 208.47V257.96H557.21V208.47ZM557.21 202.97V246.96H559.96V202.97ZM559.96 197.47V238.72H562.71V197.47ZM562.71 194.72V227.72H565.46V194.72ZM565.46 189.22V219.47H568.21V189.22ZM568.21 189.22V211.22H570.95V189.22ZM570.95 186.47V205.72H573.70V186.47ZM573.70 183.72V202.97H576.45V183.72ZM576.45 183.72V200.22H579.20V183.72ZM579.20 183.72V197.47H581.95V183.72ZM581.95 180.97V197.47H584.70V180.97ZM584.70 180.97V197.47H587.45V180.97ZM587.45 180.97V194.72H590.20V180.97ZM590.20 178.22V197.47H592.95V178.22ZM592.95 178.22V194.72H595.70V178.22ZM595.70 178.22V194.72H598.45V178.22ZM598.45 178.22V194.72H601.20V178.22ZM601.20 180.97V194.72H603.95V180.97ZM603.95 180.97V194.72H606.70V180.97ZM606.70 178.22V194.72H609.44V178.22ZM609.44 180.97V194.72H612.19V180.97ZM612.19 180.97V194.72H614.94V180.97ZM614.94 180.97V197.47H617.69V180.97ZM617.69 180.97V197.47H620.44V180.97ZM620.44 183.72V197.47H623.19V183.72ZM623.19 183.72V200.22H625.94V183.72ZM625.94 186.47V200.22H628.69V186.47ZM628.69 186.47V202.97H631.44V186.47ZM631.44 186.47V202.97H634.19V186.47ZM634.19 189.22V205.72H636.94V189.22ZM636.94 189.22V205.72H639.69V189.22ZM639.69 191.97V208.47H642.44V191.97ZM642.44 191.97V208.47H645.19V191.97ZM645.19 191.97V208.47H647.93V191.97ZM647.93 191.97V211.22H650.68V191.97ZM650.68 194.72V211.22H653.43V194.72ZM653.43 197.47V211.22H656.18V197.47ZM656.18 197.47V213.97H658.93V197.47ZM658.93 200.22V213.97H661.68V200.22ZM661.68 200.22V216.72H664.43V200.22ZM664.43 200.22V213.97H667.18V200.22ZM667.18 197.47V213.97H669.93V197.47ZM669.93 197.47V213.97H672.68V197.47ZM672.68 200.22V213.97H675.43V200.22ZM675.43 197.47V216.72H678.18V197.47ZM678.18 200.22V213.97H680.93V200.22ZM680.93 200.22V216.72H683.68V200.22ZM683.68 200.22V216.72H686.42V200.22ZM686.42 200.22V216.72H689.17V200.22ZM689.17 202.97V219.47H691.92V202.97ZM691.92 205.72V219.47H694.67V205.72ZM694.67 202.97V219.47H697.42V202.97ZM697.42 205.72V222.22H700.17V205.72ZM700.17 208.47V224.97H702.92V208.47ZM702.92 208.47V224.97H705.67V208.47ZM705.67 211.22V227.72H708.42V211.22ZM708.42 211.22V227.72H711.17V211.22ZM711.17 211.22V227.72H713.92V211.22ZM713.92 213.97V230.47H716.67V213.97ZM716.67 213.97V233.22H719.42V213.97ZM719.42 216.72V233.22H722.17V216.72ZM722.17 219.47V235.97H724.92V219.47ZM724.92 219.47V235.97H727.66V219.47ZM727.66 222.22V235.97H730.41V222.22ZM730.41 222.22V238.72H733.16V222.22ZM733.16 222.22V238.72H735.91V222.22ZM735.91 222.22V238.72H738.66V222.22ZM738.66 222.22V238.72H741.41V222.22ZM741.41 222.22V238.72H744.16V222.22ZM744.16 224.97V238.72H746.91V224.97ZM746.91 222.22V238.72H749.66V222.22ZM749.66 222.22V238.72H752.41V222.22ZM752.41 224.97V241.46H755.16V224.97ZM755.16 224.97V241.46H757.91V224.97ZM757.91 227.72V241.46H760.66V227.72ZM760.66 227.72V244.21H763.41V227.72ZM763.41 230.47V246.96H766.15V230.47ZM766.15 230.47V244.21H768.90V230.47ZM768.90 230.47V246.96H771.65V230.47ZM771.65 233.22V246.96H774.40V233.22ZM774.40 230.47V246.96H777.15V230.47ZM777.15 230.47V249.71H779.90V230.47ZM779.90 230.47V246.96H782.65V230.47ZM782.65 233.22V246.96H785.40V233.22ZM785.40 230.47V246.96H788.15V230.47ZM788.15 230.47V249.71H790.90V230.47ZM790.90 233.22V246.96H793.65V233.22ZM793.65 233.22V246.96H796.40V233.22ZM796.40 233.22V249.71H799.15V233.22ZM799.15 235.97V249.71H801.90V235.97ZM801.90 233.22V249.71H804.64V233.22ZM804.64 235.97V252.46H807.39V235.97ZM807.39 238.72V255.21H810.14V238.72ZM810.14 238.72V255.21H812.89V238.72ZM812.89 241.46V255.21H815.64V241.46ZM815.64 241.46V257.96H818.39V241.46ZM818.39 244.21V260.71H821.14V244.21ZM821.14 244.21V260.71H823.89V244.21ZM823.89 244.21V260.71H826.64V244.21ZM826.64 244.21V257.96H829.39V244.21ZM829.39 244.21V260.71H832.14V244.21ZM832.14 244.21V260.71H834.89V244.21ZM834.89 246.96V260.71H837.64V246.96ZM837.64 244.21V260.71H840.39V244.21ZM840.39 246.96V260.71H843.14V246.96ZM843.14 246.96V260.71H845.88V246.96ZM845.88 246.96V263.46H848.63V246.96ZM848.63 246.96V260.71H851.38V246.96ZM851.38 246.96V260.71H854.13V246.96ZM854.13 246.96V263.46H856.88V246.96ZM856.88 246.96V260.71H859.63V246.96ZM859.63 246.96V260.71H862.38V246.96ZM862.38 244.21V260.71H865.13V244.21ZM865.13 246.96V263.46H867.88V246.96ZM867.88 246.96V263.46H870.63V246.96ZM870.63 246.96V263.46H873.38V246.96ZM873.38 246.96V263.46H876.13V246.96ZM876.13 249.71V263.46H878.88V249.71ZM878.88 249.71V263.46H881.63V249.71ZM881.63 249.71V266.21H884.37V249.71ZM884.37 249.71V266.21H887.12V249.71ZM887.12 252.46V266.21H889.87V252.46ZM889.87 249.71V266.21H892.62V249.71ZM892.62 252.46V266.21H895.37V252.46ZM895.37 252.46V266.21H898.12V252.46ZM898.12 252.46V268.96H900.87V252.46ZM900.87 252.46V268.96H903.62V252.46ZM903.62 252.46V266.21H906.37V252.46ZM906.37 252.46V266.21H909.12V252.46ZM909.12 246.96V266.21H911.87V246.96ZM911.87 241.46V263.46H914.62V241.46ZM914.62 230.47V263.46H917.37V230.47ZM917.37 222.22V260.71H920.12V222.22ZM920.12 216.72V255.21H922.86V216.72ZM922.86 208.47V249.71H925.61V208.47ZM925.61 202.97V244.21H928.36V202.97ZM928.36 200.22V233.22H931.11V200.22ZM931.11 194.72V224.97H933.86V194.72ZM933.86 194.72V219.47H936.61V194.72ZM936.61 189.22V211.22H939.36V189.22ZM939.36 191.97V208.47H942.11V191.97ZM942.11 189.22V205.72H944.86V189.22ZM944.86 189.22V202.97H947.61V189.22ZM947.61 186.47V202.97H950.36V186.47ZM950.36 183.72V200.22H953.11V183.72ZM953.11 183.72V200.22H955.86V183.72ZM955.86 180.97V197.47H958.61V180.97ZM958.61 180.97V197.47H961.36V180.97ZM961.36 180.97V194.72H964.10V180.97ZM964.10 178.22V194.72H966.85V178.22ZM966.85 178.22V194.72H969.60V178.22ZM969.60 175.47V194.72H972.35V175.47ZM972.35 175.47V191.97H975.10V175.47ZM975.10 178.22V191.97H977.85V178.22ZM977.85 178.22V191.97H980.60V178.22ZM980.60 178.22V194.72H983.35V178.22ZM983.35 178.22V194.72H986.10V178.22ZM986.10 180.97V197.47H988.85V180.97ZM988.85 183.72V197.47H991.60V183.72ZM991.60 183.72V200.22H994.35V183.72ZM994.35 183.72V200.22H997.10V183.72ZM997.10 183.72V200.22H999.85V183.72ZM999.85 186.47V202.97H1002.59V186.47ZM1002.59 189.22V202.97H1005.34V189.22ZM1005.34 186.47V202.97H1008.09V186.47ZM1008.09 189.22V202.97H1010.84V189.22ZM1010.84 186.47V202.97H1013.59V186.47ZM1013.59 186.47V202.97H1016.34V186.47ZM1016.34 189.22V202.97H1019.09V189.22ZM1019.09 189.22V205.72H1021.84V189.22ZM1021.84 189.22V205.72H1024.59V189.22ZM1024.59 191.97V205.72H1027.34V191.97ZM1027.34 191.97V205.72H1030.09V191.97ZM1030.09 191.97V208.47H1032.84V191.97ZM1032.84 191.97V208.47H1035.59V191.97ZM1035.59 191.97V208.47H1038.34V191.97ZM1038.34 194.72V208.47H1041.08V194.72ZM1041.08 191.97V208.47H1043.83V191.97ZM1043.83 191.97V208.47H1046.58V191.97ZM1046.58 194.72V208.47H1049.33V194.72ZM1049.33 194.72V208.47H1052.08V194.72ZM1052.08 194.72V208.47H1054.83V194.72ZM1054.83 194.72V211.22H1057.58V194.72ZM1057.58 197.47V211.22H1060.33V197.47ZM1060.33 194.72V213.97H1063.08V194.72ZM1063.08 197.47V216.72H1065.83V197.47ZM1065.83 200.22V216.72H1068.58V200.22ZM1068.58 200.22V213.97H1071.33V200.22ZM1071.33 200.22V216.72H1074.08V200.22ZM1074.08 202.97V219.47H1076.83V202.97ZM1076.83 200.22V216.72H1079.57V200.22ZM1079.57 202.97V219.47H1082.32V202.97ZM1082.32 202.97V219.47H1085.07V202.97ZM1085.07 202.97V222.22H1087.82V202.97ZM1087.82 202.97V219.47H1090.57V202.97ZM1090.57 205.72V219.47H1093.32V205.72ZM1093.32 202.97V219.47H1096.07V202.97ZM1096.07 205.72V219.47H1098.82V205.72ZM1098.82 205.72V219.47H1101.57V205.72ZM1101.57 205.72V222.22H1104.32V205.72ZM1104.32 205.72V219.47H1107.07V205.72ZM1107.07 202.97V219.47H1109.82V202.97ZM1109.82 202.97V219.47H1112.57V202.97ZM1112.57 202.97V219.47H1115.32V202.97ZM1115.32 202.97V219.47H1118.07V202.97ZM1118.07 202.97V219.47H1120.81V202.97ZM1120.81 202.97V219.47H1123.56V202.97ZM1123.56 205.72V222.22H1126.31V205.72ZM1126.31 205.72V222.22H1129.06V205.72ZM1129.06 205.72V222.22H1131.81V205.72ZM1131.81 208.47V224.97H1134.56V208.47ZM1134.56 208.47V224.97H1137.31V208.47ZM1137.31 211.22V224.97H1140.06V211.22ZM1140.06 211.22V224.97H1142.81V211.22ZM1142.81 211.22V224.97H1145.56V211.22ZM1145.56 211.22V224.97H1148.31V211.22ZM1148.31 211.22V227.72H1151.06V211.22ZM1151.06 211.22V227.72H1153.81V211.22ZM1153.81 211.22V227.72H1156.56V211.22ZM1156.56 213.97V227.72H1159.30V213.97ZM1159.30 211.22V227.72H1162.05V211.22ZM1162.05 213.97V227.72H1164.80V213.97ZM1164.80 213.97V230.47H1167.55V213.97ZM1167.55 216.72V230.47H1170.30V216.72ZM1170.30 213.97V230.47H1173.05V213.97ZM1173.05 216.72V233.22H1175.80V216.72ZM1175.80 216.72V233.22H1178.55V216.72ZM1178.55 216.72V233.22H1181.30V216.72ZM1181.30 216.72V233.22H1184.05V216.72ZM1184.05 216.72V233.22H1186.80V216.72ZM1186.80 219.47V235.97H1189.55V219.47ZM1189.55 216.72V233.22H1192.30V216.72ZM1192.30 219.47V235.97H1195.05V219.47ZM1195.05 219.47V235.97H1197.79V219.47ZM1197.79 219.47V235.97H1200.54V219.47ZM1200.54 219.47V235.97H1203.29V219.47ZM1203.29 219.47V235.97H1206.04V219.47ZM1206.04 219.47V235.97H1208.79V219.47ZM1208.79 222.22V238.72H1211.54V222.22ZM1211.54 222.22V238.72H1214.29V222.22ZM1214.29 224.97V238.72H1217.04V224.97ZM1217.04 224.97V238.72H1219.79V224.97ZM1219.79 224.97V241.46H1222.54V224.97ZM1222.54 224.97V238.72H1225.29V224.97ZM1225.29 224.97V241.46H1228.04V224.97ZM1228.04 224.97V241.46H1230.79V224.97ZM1230.79 224.97V241.46H1233.54V224.97ZM1233.54 224.97V241.46H1236.28V224.97ZM1236.28 224.97V241.46H1239.03V224.97ZM1239.03 224.97V241.46H1241.78V224.97ZM1241.78 227.72V241.46H1244.53V227.72ZM1244.53 224.97V241.46H1247.28V224.97ZM1247.28 227.72V241.46H1250.03V227.72ZM1250.03 227.72V241.46H1252.78V227.72ZM1252.78 227.72V241.46H1255.53V227.72ZM1255.53 224.97V241.46H1258.28V224.97ZM1258.28 224.97V241.46H1261.03V224.97ZM1261.03 224.97V241.46H1263.78V224.97ZM1263.78 227.72V241.46H1266.53V227.72ZM1266.53 227.72V241.46H1269.28V227.72ZM1269.28 227.72V241.46H1272.03V227.72ZM1272.03 227.72V244.21H1274.78V227.72ZM1274.78 227.72V244.21H1277.52V227.72ZM1277.52 230.47V246.96H1280.27V230.47ZM1280.27 230.47V246.96H1283.02V230.47ZM1283.02 230.47V246.96H1285.77V230.47ZM1285.77 230.47V249.71H1288.52V230.47ZM1288.52 233.22V249.71H1291.27V233.22ZM1291.27 233.22V249.71H1294.02V233.22ZM1294.02 233.22V246.96H1296.77V233.22ZM1296.77 235.97V249.71H1299.52V235.97ZM1299.52 235.97V249.71H1302.27V235.97ZM1302.27 235.97V249.71H1305.02V235.97ZM1305.02 235.97V252.46H1307.77V235.97ZM1307.77 235.97V252.46H1310.52V235.97ZM1310.52 235.97V249.71H1313.27V235.97ZM1313.27 235.97V252.46H1316.01V235.97ZM1316.01 235.97V252.46H1318.76V235.97ZM1318.76 238.72V255.21H1321.51V238.72ZM1321.51 235.97V252.46H1324.26V235.97ZM1324.26 238.72V252.46H1327.01V238.72ZM1327.01 238.72V252.46H1329.76V238.72ZM1329.76 238.72V252.46H1332.51V238.72ZM1332.51 238.72V255.21H1335.26V238.72ZM1335.26 235.97V252.46H1338.01V235.97ZM1338.01 238.72V255.21H1340.76V238.72ZM1340.76 238.72V255.21H1343.51V238.72ZM1343.51 238.72V255.21H1346.26V238.72ZM1346.26 241.46V257.96H1349.01V241.46ZM1349.01 241.46V255.21H1351.76V241.46ZM1351.76 238.72V255.21H1354.50V238.72ZM1354.50 241.46V260.71H1357.25V241.46ZM1357.25 241.46V257.96H1360.00V241.46ZM1360.00 244.21V257.96H1362.75V244.21ZM1362.75 244.21V257.96H1365.50V244.21ZM1365.50 244.21V257.96H1368.25V244.21ZM1368.25 244.21V257.96H1371.00V244.21ZM1371.00 244.21V260.71H1373.75V244.21ZM1373.75 246.96V260.71H1376.50V246.96ZM1376.50 244.21V260.71H1379.25V244.21ZM1379.25 246.96V263.46H1382.00V246.96ZM1382.00 244.21V263.46H1384.75V244.21ZM1384.75 246.96V263.46H1387.50V246.96ZM1387.50 246.96V263.46H1390.25V246.96ZM1390.25 246.96V263.46H1393.00V246.96ZM1393.00 246.96V260.71H1395.74V246.96ZM1395.74 246.96V260.71H1398.49V246.96ZM1398.49 246.96V260.71H1401.24V246.96ZM1401.24 246.96V263.46H1403.99V246.96ZM1403.99 246.96V263.46H1406.74V246.96ZM1406.74 246.96V263.46H1409.49V246.96ZM1409.49 246.96V263.46H1412.24V246.96ZM1412.24 246.96V263.46H1414.99V246.96ZM1414.99 246.96V263.46H1417.74V246.96ZM1417.74 244.21V263.46H1420.49V244.21ZM1420.49 249.71V263.46H1423.24V249.71ZM1423.24 249.71V263.46H1425.99V249.71ZM1425.99 249.71V266.21H1428.74V249.71ZM1428.74 246.96V263.46H1431.49V246.96ZM1431.49 249.71V263.46H1434.23V249.71ZM1434.23 249.71V263.46H1436.98V249.71ZM1436.98 249.71V263.46H1439.73V249.71ZM1439.73 246.96V263.46H1442.48V246.96ZM1442.48 249.71V263.46H1445.23V249.71ZM1445.23 246.96V266.21H1447.98V246.96ZM1447.98 246.96V263.46H1450.73V246.96ZM1450.73 244.21V260.71H1453.48V244.21ZM1453.48 235.97V260.71H1456.23V235.97ZM1456.23 227.72V257.96H1458.98V227.72ZM1458.98 219.47V255.21H1461.73V219.47ZM1461.73 211.22V252.46H1464.48V211.22ZM1464.48 202.97V244.21H1467.23V202.97ZM1467.23 197.47V235.97H1469.98V197.47ZM1469.98 191.97V227.72H1472.72V191.97ZM1472.72 186.47V222.22H1475.47V186.47ZM1475.47 183.72V213.97H1478.22V183.72ZM1478.22 180.97V205.72H1480.97V180.97ZM1480.97 178.22V200.22H1483.72V178.22ZM1483.72 175.47V194.72H1486.47V175.47ZM1486.47 172.72V191.97H1489.22V172.72ZM1489.22 172.72V189.22H1491.97V172.72ZM1491.97 172.72V186.47H1494.72V172.72ZM1494.72 169.98V186.47H1497.47V169.98ZM1497.47 167.23V183.72H1500.22V167.23ZM1500.22 167.23V183.72H1502.97V167.23ZM1502.97 167.23V180.97H1505.72V167.23ZM1505.72 164.48V180.97H1508.47V164.48ZM1508.47 164.48V183.72H1511.21V164.48ZM1511.21 164.48V180.97H1513.96V164.48ZM1513.96 164.48V178.22H1516.71V164.48ZM1516.71 164.48V178.22H1519.46V164.48ZM1519.46 161.73V178.22H1522.21V161.73ZM1522.21 161.73V175.47H1524.96V161.73ZM1524.96 161.73V180.97H1527.71V161.73ZM1527.71 164.48V180.97H1530.46V164.48ZM1530.46 164.48V180.97H1533.21V164.48ZM1533.21 164.48V180.97H1535.96V164.48ZM1535.96 164.48V180.97H1538.71V164.48ZM1538.71 164.48V180.97H1541.46V164.48ZM1541.46 167.23V183.72H1544.21V167.23ZM1544.21 169.98V183.72H1546.96V169.98ZM1546.96 169.98V186.47H1549.71V169.98ZM1549.71 167.23V186.47H1552.45V167.23ZM1552.45 169.98V183.72H1555.20V169.98ZM1555.20 172.72V186.47H1557.95V172.72ZM1557.95 169.98V186.47H1560.70V169.98ZM1560.70 172.72V186.47H1563.45V172.72ZM1563.45 172.72V189.22H1566.20V172.72ZM1566.20 172.72V189.22H1568.95V172.72ZM1568.95 175.47V189.22H1571.70V175.47ZM1571.70 172.72V189.22H1574.45V172.72ZM1574.45 175.47V189.22H1577.20V175.47ZM1577.20 172.72V189.22H1579.95V172.72ZM1579.95 172.72V189.22H1582.70V172.72ZM1582.70 175.47V189.22H1585.45V175.47ZM1585.45 172.72V189.22H1588.20V172.72ZM1588.20 175.47V191.97H1590.94V175.47ZM1590.94 175.47V191.97H1593.69V175.47ZM1593.69 175.47V191.97H1596.44V175.47ZM1596.44 175.47V191.97H1599.19V175.47ZM1599.19 175.47V191.97H1601.94V175.47ZM1601.94 175.47V191.97H1604.69V175.47ZM1604.69 178.22V191.97H1607.44V178.22ZM1607.44 178.22V194.72H1610.19V178.22ZM1610.19 178.22V194.72H1612.94V178.22ZM1612.94 178.22V194.72H1615.69V178.22ZM1615.69 180.97V197.47H1618.44V180.97ZM1618.44 178.22V194.72H1621.19V178.22ZM1621.19 180.97V194.72H1623.94V180.97ZM1623.94 180.97V194.72H1626.69V180.97ZM1626.69 178.22V194.72H1629.43V178.22ZM1629.43 178.22V194.72H1632.18V178.22ZM1632.18 180.97V194.72H1634.93V180.97ZM1634.93 178.22V194.72H1637.68V178.22ZM1637.68 178.22V194.72H1640.43V178.22ZM1640.43 178.22V191.97H1643.18V178.22ZM1643.18 180.97V194.72H1645.93V180.97ZM1645.93 178.22V197.47H1648.68V178.22ZM1648.68 178.22V194.72H1651.43V178.22ZM1651.43 180.97V197.47H1654.18V180.97ZM1654.18 180.97V197.47H1656.93V180.97ZM1656.93 183.72V200.22H1659.68V183.72ZM1659.68 183.72V200.22H1662.43V183.72ZM1662.43 183.72V200.22H1665.18V183.72ZM1665.18 186.47V202.97H1667.93V186.47ZM1667.93 186.47V202.97H1670.67V186.47ZM1670.67 186.47V202.97H1673.42V186.47ZM1673.42 186.47V205.72H1676.17V186.47ZM1676.17 189.22V202.97H1678.92V189.22ZM1678.92 186.47V202.97H1681.67V186.47ZM1681.67 189.22V202.97H1684.42V189.22ZM1684.42 189.22V205.72H1687.17V189.22ZM1687.17 189.22V205.72H1689.92V189.22ZM1689.92 189.22V202.97H1692.67V189.22ZM1692.67 189.22V205.72H1695.42V189.22ZM1695.42 191.97V205.72H1698.17V191.97ZM1698.17 191.97V208.47H1700.92V191.97ZM1700.92 194.72V208.47H1703.67V194.72ZM1703.67 194.72V208.47H1706.42V194.72ZM1706.42 194.72V211.22H1709.16V194.72ZM1709.16 194.72V211.22H1711.91V194.72ZM1711.91 194.72V213.97H1714.66V194.72ZM1714.66 194.72V213.97H1717.41V194.72ZM1717.41 194.72V213.97H1720.16V194.72ZM1720.16 197.47V211.22H1722.91V197.47ZM1722.91 197.47V213.97H1725.66V197.47ZM1725.66 197.47V211.22H1728.41V197.47ZM1728.41 197.47V213.97H1731.16V197.47ZM1731.16 197.47V211.22H1733.91V197.47ZM1733.91 197.47V213.97H1736.66V197.47ZM1736.66 197.47V213.97H1739.41V197.47ZM1739.41 194.72V211.22H1742.16V194.72ZM1742.16 194.72V211.22H1744.91V194.72ZM1744.91 194.72V211.22H1747.65V194.72ZM1747.65 194.72V211.22H1750.40V194.72ZM1750.40 194.72V208.47H1753.15V194.72ZM1753.15 194.72V211.22H1755.90V194.72ZM1755.90 191.97V211.22H1758.65V191.97ZM1758.65 194.72V211.22H1761.40V194.72ZM1761.40 194.72V211.22H1764.15V194.72ZM1764.15 197.47V211.22H1766.90V197.47ZM1766.90 197.47V211.22H1769.65V197.47ZM1769.65 197.47V211.22H1772.40V197.47ZM1772.40 197.47V216.72H1775.15V197.47ZM1775.15 197.47V211.22H1777.90V197.47ZM1777.90 197.47V213.97H1780.65V197.47ZM1780.65 200.22V213.97H1783.40V200.22ZM1783.40 200.22V213.97H1786.14V200.22ZM1786.14 200.22V213.97H1788.89V200.22ZM1788.89 200.22V216.72H1791.64V200.22ZM1791.64 200.22V216.72H1794.39V200.22ZM1794.39 200.22V216.72H1797.14V200.22ZM1797.14 202.97V216.72H1799.89V202.97ZM1799.89 200.22V216.72H1802.64V200.22ZM1802.64 202.97V219.47H1805.39V202.97ZM1805.39 202.97V219.47H1808.14V202.97ZM1808.14 202.97V216.72H1810.89V202.97ZM1810.89 200.22V219.47H1813.64V200.22ZM1813.64 205.72V219.47H1816.39V205.72ZM1816.39 205.72V219.47H1819.14V205.72ZM1819.14 205.72V224.97H1821.89V205.72ZM1821.89 205.72V222.22H1824.64V205.72ZM1824.64 208.47V227.72H1827.38V208.47ZM1827.38 211.22V224.97H1830.13V211.22ZM1830.13 211.22V224.97H1832.88V211.22ZM1832.88 211.22V227.72H1835.63V211.22ZM1835.63 211.22V227.72H1838.38V211.22ZM1838.38 213.97V227.72H1841.13V213.97ZM1841.13 213.97V230.47H1843.88V213.97ZM1843.88 216.72V230.47H1846.63V216.72ZM1846.63 213.97V230.47H1849.38V213.97ZM1849.38 213.97V230.47H1852.13V213.97ZM1852.13 213.97V230.47H1854.88V213.97ZM1854.88 213.97V227.72H1857.63V213.97ZM1857.63 211.22V227.72H1860.38V211.22ZM1860.38 213.97V227.72H1863.13V213.97ZM1863.13 213.97V227.72H1865.87V213.97ZM1865.87 211.22V230.47H1868.62V211.22ZM1868.62 211.22V227.72H1871.37V211.22ZM1871.37 208.47V227.72H1874.12V208.47ZM1874.12 208.47V227.72H1876.87V208.47ZM1876.87 211.22V227.72H1879.62V211.22ZM1879.62 211.22V227.72H1882.37V211.22ZM1882.37 211.22V227.72H1885.12V211.22ZM1885.12 213.97V230.47H1887.87V213.97ZM1887.87 216.72V230.47H1890.62V216.72ZM1890.62 216.72V233.22H1893.37V216.72ZM1893.37 216.72V230.47H1896.12V216.72ZM1896.12 216.72V230.47H1898.87V216.72ZM1898.87 216.72V233.22H1901.62V216.72ZM1901.62 213.97V233.22H1904.36V213.97ZM1904.36 219.47V233.22H1907.11V219.47ZM1907.11 219.47V233.22H1909.86V219.47ZM1909.86 216.72V233.22H1912.61V216.72ZM1912.61 216.72V233.22H1915.36V216.72ZM1915.36 216.72V233.22H1918.11V216.72ZM1918.11 219.47V233.22H1920.86V219.47ZM1920.86 216.72V233.22H1923.61V216.72ZM1923.61 216.72V233.22H1926.36V216.72ZM1926.36 219.47V233.22H1929.11V219.47ZM1929.11 219.47V235.97H1931.86V219.47ZM1931.86 219.47V235.97H1934.61V219.47ZM1934.61 222.22V238.72H1937.36V222.22ZM1937.36 222.22V235.97H1940.11V222.22ZM1940.11 222.22V238.72H1942.86V222.22ZM1942.86 222.22V238.72H1945.60V222.22ZM1945.60 224.97V238.72H1948.35V224.97ZM1948.35 224.97V241.46H1951.10V224.97ZM1951.10 224.97V241.46H1953.85V224.97ZM1953.85 224.97V241.46H1956.60V224.97ZM1956.60 227.72V241.46H1959.35V227.72ZM1959.35 224.97V241.46H1962.10V224.97ZM1962.10 227.72V238.72H1964.85V227.72ZM1964.85 233.22V235.97H1967.60V233.22Z"/>
<path fill="#FA2600" d="M213.55 1418.29V1476.04H216.29V1418.29ZM216.29 1355.05V1473.29H219.04V1355.05ZM219.04 1278.06V1467.79H221.79V1278.06ZM221.79 1214.82V1456.79H224.54V1214.82ZM224.54 1154.33V1443.04H227.29V1154.33ZM227.29 1060.85V1418.29H230.04V1060.85ZM230.04 997.60V1355.05H232.79V997.60ZM232.79 934.36V1278.06H235.54V934.36ZM235.54 887.62V1214.82H238.29V887.62ZM238.29 854.63V1154.33H241.04V854.63ZM241.04 818.88V1060.85H243.79V818.88ZM243.79 791.38V997.60H246.54V791.38ZM246.54 769.39V934.36H249.29V769.39ZM249.29 747.39V890.37H252.04V747.39ZM252.04 728.14V854.63H254.78V728.14ZM254.78 706.15V818.88H257.53V706.15ZM257.53 686.90V791.38H260.28V686.90ZM260.28 670.40V769.39H263.03V670.40ZM263.03 653.90V747.39H265.78V653.90ZM265.78 640.16V728.14H268.53V640.16ZM268.53 626.41V706.15H271.28V626.41ZM271.28 612.66V686.90H274.03V612.66ZM274.03 598.91V670.40H276.78V598.91ZM276.78 587.91V653.90H279.53V587.91ZM279.53 576.92V640.16H282.28V576.92ZM282.28 568.67V626.41H285.03V568.67ZM285.03 563.17V615.41H287.78V563.17ZM287.78 554.92V601.66H290.53V554.92ZM290.53 549.42V590.66H293.28V549.42ZM293.28 541.17V579.67H296.02V541.17ZM296.02 532.92V571.42H298.77V532.92ZM298.77 524.67V565.92H301.52V524.67ZM301.52 516.42V557.67H304.27V516.42ZM304.27 508.18V549.42H307.02V508.18ZM307.02 499.93V541.17H309.77V499.93ZM309.77 491.68V532.92H312.52V491.68ZM312.52 483.43V524.67H315.27V483.43ZM315.27 475.18V516.42H318.02V475.18ZM318.02 469.68V508.18H320.77V469.68ZM320.77 461.43V499.93H323.52V461.43ZM323.52 453.18V494.43H326.27V453.18ZM326.27 447.68V486.18H329.02V447.68ZM329.02 439.44V477.93H331.77V439.44ZM331.77 433.94V472.43H334.51V433.94ZM334.51 428.44V464.18H337.26V428.44ZM337.26 422.94V455.93H340.01V422.94ZM340.01 417.44V447.68H342.76V417.44ZM342.76 411.94V442.19H345.51V411.94ZM345.51 409.19V436.69H348.26V409.19ZM348.26 406.44V431.19H351.01V406.44ZM351.01 403.69V425.69H353.76V403.69ZM353.76 400.94V420.19H356.51V400.94ZM356.51 398.19V417.44H359.26V398.19ZM359.26 398.19V414.69H362.01V398.19ZM362.01 395.44V411.94H364.76V395.44ZM364.76 395.44V411.94H367.51V395.44ZM367.51 392.69V409.19H370.26V392.69ZM370.26 392.69V409.19H373.00V392.69ZM373.00 389.94V406.44H375.75V389.94ZM375.75 387.19V403.69H378.50V387.19ZM378.50 387.19V403.69H381.25V387.19ZM381.25 384.44V400.94H384.00V384.44ZM384.00 384.44V400.94H386.75V384.44ZM386.75 384.44V398.19H389.50V384.44ZM389.50 384.44V398.19H392.25V384.44ZM392.25 384.44V400.94H395.00V384.44ZM395.00 384.44V398.19H397.75V384.44ZM397.75 384.44V398.19H400.50V384.44ZM400.50 381.69V398.19H403.25V381.69ZM403.25 381.69V398.19H406.00V381.69ZM406.00 376.20V398.19H408.75V376.20ZM408.75 370.70V395.44H411.50V370.70ZM411.50 362.45V392.69H414.24V362.45ZM414.24 356.95V389.94H416.99V356.95ZM416.99 351.45V384.44H419.74V351.45ZM419.74 345.95V378.94H422.49V345.95ZM422.49 340.45V373.45H425.24V340.45ZM425.24 334.95V367.95H427.99V334.95ZM427.99 332.20V359.70H430.74V332.20ZM430.74 326.70V354.20H433.49V326.70ZM433.49 323.95V348.70H436.24V323.95ZM436.24 321.20V343.20H438.99V321.20ZM438.99 321.20V340.45H441.74V321.20ZM441.74 318.45V334.95H444.49V318.45ZM444.49 315.70V334.95H447.24V315.70ZM447.24 315.70V332.20H449.99V315.70ZM449.99 312.95V329.45H452.73V312.95ZM452.73 312.95V329.45H455.48V312.95ZM455.48 310.20V326.70H458.23V310.20ZM458.23 310.20V326.70H460.98V310.20ZM460.98 310.20V323.95H463.73V310.20ZM463.73 310.20V323.95H466.48V310.20ZM466.48 307.46V323.95H469.23V307.46ZM469.23 310.20V323.95H471.98V310.20ZM471.98 310.20V323.95H474.73V310.20ZM474.73 307.46V323.95H477.48V307.46ZM477.48 310.20V323.95H480.23V310.20ZM480.23 307.46V323.95H482.98V307.46ZM482.98 310.20V323.95H485.73V310.20ZM485.73 310.20V323.95H488.48V310.20ZM488.48 307.46V323.95H491.22V307.46ZM491.22 310.20V326.70H493.97V310.20ZM493.97 310.20V323.95H496.72V310.20ZM496.72 310.20V326.70H499.47V310.20ZM499.47 310.20V326.70H502.22V310.20ZM502.22 310.20V326.70H504.97V310.20ZM504.97 312.95V326.70H507.72V312.95ZM507.72 312.95V329.45H510.47V312.95ZM510.47 312.95V329.45H513.22V312.95ZM513.22 312.95V329.45H515.97V312.95ZM515.97 315.70V329.45H518.72V315.70ZM518.72 312.95V329.45H521.47V312.95ZM521.47 312.95V329.45H524.22V312.95ZM524.22 312.95V329.45H526.97V312.95ZM526.97 315.70V329.45H529.71V315.70ZM529.71 312.95V329.45H532.46V312.95ZM532.46 312.95V329.45H535.21V312.95ZM535.21 312.95V329.45H537.96V312.95ZM537.96 312.95V329.45H540.71V312.95ZM540.71 312.95V329.45H543.46V312.95ZM543.46 312.95V326.70H546.21V312.95ZM546.21 312.95V329.45H548.96V312.95ZM548.96 307.46V326.70H551.71V307.46ZM551.71 310.20V326.70H554.46V310.20ZM554.46 304.71V323.95H557.21V304.71ZM557.21 299.21V323.95H559.96V299.21ZM559.96 290.96V321.20H562.71V290.96ZM562.71 285.46V318.45H565.46V285.46ZM565.46 277.21V315.70H568.21V277.21ZM568.21 271.71V307.46H570.95V271.71ZM570.95 266.21V301.96H573.70V266.21ZM573.70 263.46V293.71H576.45V263.46ZM576.45 257.96V288.21H579.20V257.96ZM579.20 255.21V279.96H581.95V255.21ZM581.95 252.46V274.46H584.70V252.46ZM584.70 249.71V271.71H587.45V249.71ZM587.45 246.96V268.96H590.20V246.96ZM590.20 244.21V263.46H592.95V244.21ZM592.95 241.46V263.46H595.70V241.46ZM595.70 238.72V257.96H598.45V238.72ZM598.45 235.97V255.21H601.20V235.97ZM601.20 235.97V252.46H603.95V235.97ZM603.95 233.22V249.71H606.70V233.22ZM606.70 233.22V246.96H609.44V233.22ZM609.44 233.22V246.96H612.19V233.22ZM612.19 233.22V249.71H614.94V233.22ZM614.94 233.22V249.71H617.69V233.22ZM617.69 235.97V252.46H620.44V235.97ZM620.44 235.97V252.46H623.19V235.97ZM623.19 233.22V249.71H625.94V233.22ZM625.94 233.22V252.46H628.69V233.22ZM628.69 233.22V249.71H631.44V233.22ZM631.44 230.47V246.96H634.19V230.47ZM634.19 230.47V244.21H636.94V230.47ZM636.94 227.72V246.96H639.69V227.72ZM639.69 230.47V244.21H642.44V230.47ZM642.44 230.47V246.96H645.19V230.47ZM645.19 230.47V246.96H647.93V230.47ZM647.93 230.47V246.96H650.68V230.47ZM650.68 233.22V246.96H653.43V233.22ZM653.43 233.22V246.96H656.18V233.22ZM656.18 230.47V249.71H658.93V230.47ZM658.93 233.22V249.71H661.68V233.22ZM661.68 235.97V249.71H664.43V235.97ZM664.43 235.97V249.71H667.18V235.97ZM667.18 233.22V249.71H669.93V233.22ZM669.93 235.97V252.46H672.68V235.97ZM672.68 238.72V252.46H675.43V238.72ZM675.43 238.72V252.46H678.18V238.72ZM678.18 235.97V252.46H680.93V235.97ZM680.93 238.72V252.46H683.68V238.72ZM683.68 238.72V257.96H686.42V238.72ZM686.42 238.72V252.46H689.17V238.72ZM689.17 235.97V252.46H691.92V235.97ZM691.92 238.72V252.46H694.67V238.72ZM694.67 238.72V255.21H697.42V238.72ZM697.42 235.97V252.46H700.17V235.97ZM700.17 238.72V255.21H702.92V238.72ZM702.92 238.72V255.21H705.67V238.72ZM705.67 241.46V255.21H708.42V241.46ZM708.42 241.46V255.21H711.17V241.46ZM711.17 241.46V255.21H713.92V241.46ZM713.92 241.46V257.96H716.67V241.46ZM716.67 241.46V257.96H719.42V241.46ZM719.42 244.21V257.96H722.17V244.21ZM722.17 241.46V257.96H724.92V241.46ZM724.92 241.46V260.71H727.66V241.46ZM727.66 244.21V257.96H730.41V244.21ZM730.41 241.46V257.96H733.16V241.46ZM733.16 244.21V257.96H735.91V244.21ZM735.91 244.21V260.71H738.66V244.21ZM738.66 241.46V257.96H741.41V241.46ZM741.41 241.46V257.96H744.16V241.46ZM744.16 241.46V260.71H746.91V241.46ZM746.91 244.21V257.96H749.66V244.21ZM749.66 244.21V260.71H752.41V244.21ZM752.41 244.21V257.96H755.16V244.21ZM755.16 244.21V260.71H757.91V244.21ZM757.91 244.21V260.71H760.66V244.21ZM760.66 244.21V260.71H763.41V244.21ZM763.41 246.96V263.46H766.15V246.96ZM766.15 246.96V260.71H768.90V246.96ZM768.90 246.96V263.46H771.65V246.96ZM771.65 249.71V263.46H774.40V249.71ZM774.40 249.71V268.96H777.15V249.71ZM777.15 249.71V266.21H779.90V249.71ZM779.90 246.96V266.21H782.65V246.96ZM782.65 252.46V266.21H785.40V252.46ZM785.40 252.46V268.96H788.15V252.46ZM788.15 252.46V266.21H790.90V252.46ZM790.90 252.46V268.96H793.65V252.46ZM793.65 252.46V268.96H796.40V252.46ZM796.40 252.46V268.96H799.15V252.46ZM799.15 255.21V268.96H801.90V255.21ZM801.90 255.21V268.96H804.64V255.21ZM804.64 252.46V268.96H807.39V252.46ZM807.39 255.21V268.96H810.14V255.21ZM810.14 255.21V268.96H812.89V255.21ZM812.89 255.21V268.96H815.64V255.21ZM815.64 255.21V268.96H818.39V255.21ZM818.39 252.46V268.96H821.14V252.46ZM821.14 255.21V271.71H823.89V255.21ZM823.89 255.21V271.71H826.64V255.21ZM826.64 252.46V274.46H829.39V252.46ZM829.39 257.96V271.71H832.14V257.96ZM832.14 255.21V274.46H834.89V255.21ZM834.89 257.96V274.46H837.64V257.96ZM837.64 257.96V271.71H840.39V257.96ZM840.39 257.96V271.71H843.14V257.96ZM843.14 257.96V274.46H845.88V257.96ZM845.88 257.96V274.46H848.63V257.96ZM848.63 257.96V274.46H851.38V257.96ZM851.38 257.96V274.46H854.13V257.96ZM854.13 260.71V274.46H856.88V260.71ZM856.88 257.96V274.46H859.63V257.96ZM859.63 257.96V274.46H862.38V257.96ZM862.38 260.71V274.46H865.13V260.71ZM865.13 260.71V274.46H867.88V260.71ZM867.88 260.71V274.46H870.63V260.71ZM870.63 260.71V274.46H873.38V260.71ZM873.38 260.71V277.21H876.13V260.71ZM876.13 257.96V274.46H878.88V257.96ZM878.88 257.96V274.46H881.63V257.96ZM881.63 260.71V274.46H884.37V260.71ZM884.37 260.71V277.21H887.12V260.71ZM887.12 260.71V277.21H889.87V260.71ZM889.87 263.46V277.21H892.62V263.46ZM892.62 260.71V277.21H895.37V260.71ZM895.37 263.46V282.71H898.12V263.46ZM898.12 266.21V279.96H900.87V266.21ZM900.87 266.21V285.46H903.62V266.21ZM903.62 268.96V282.71H906.37V268.96ZM906.37 268.96V282.71H909.12V268.96ZM909.12 268.96V282.71H911.87V268.96ZM911.87 268.96V285.46H914.62V268.96ZM914.62 268.96V285.46H917.37V268.96ZM917.37 266.21V282.71H920.12V266.21ZM920.12 263.46V282.71H922.86V263.46ZM922.86 260.71V279.96H925.61V260.71ZM925.61 255.21V277.21H928.36V255.21ZM928.36 252.46V274.46H931.11V252.46ZM931.11 246.96V271.71H933.86V246.96ZM933.86 244.21V268.96H936.61V244.21ZM936.61 238.72V263.46H939.36V238.72ZM939.36 235.97V260.71H942.11V235.97ZM942.11 230.47V255.21H944.86V230.47ZM944.86 227.72V252.46H947.61V227.72ZM947.61 224.97V246.96H950.36V224.97ZM950.36 222.22V244.21H953.11V222.22ZM953.11 219.47V238.72H955.86V219.47ZM955.86 219.47V235.97H958.61V219.47ZM958.61 216.72V233.22H961.36V216.72ZM961.36 216.72V233.22H964.10V216.72ZM964.10 213.97V230.47H966.85V213.97ZM966.85 211.22V230.47H969.60V211.22ZM969.60 211.22V227.72H972.35V211.22ZM972.35 211.22V224.97H975.10V211.22ZM975.10 208.47V224.97H977.85V208.47ZM977.85 208.47V224.97H980.60V208.47ZM980.60 205.72V222.22H983.35V205.72ZM983.35 202.97V222.22H986.10V202.97ZM986.10 202.97V219.47H988.85V202.97ZM988.85 202.97V216.72H991.60V202.97ZM991.60 202.97V219.47H994.35V202.97ZM994.35 202.97V219.47H997.10V202.97ZM997.10 200.22V216.72H999.85V200.22ZM999.85 202.97V216.72H1002.59V202.97ZM1002.59 202.97V216.72H1005.34V202.97ZM1005.34 202.97V219.47H1008.09V202.97ZM1008.09 202.97V216.72H1010.84V202.97ZM1010.84 202.97V219.47H1013.59V202.97ZM1013.59 200.22V216.72H1016.34V200.22ZM1016.34 202.97V216.72H1019.09V202.97ZM1019.09 202.97V216.72H1021.84V202.97ZM1021.84 202.97V219.47H1024.59V202.97ZM1024.59 202.97V219.47H1027.34V202.97ZM1027.34 202.97V219.47H1030.09V202.97ZM1030.09 205.72V222.22H1032.84V205.72ZM1032.84 205.72V222.22H1035.59V205.72ZM1035.59 205.72V222.22H1038.34V205.72ZM1038.34 208.47V224.97H1041.08V208.47ZM1041.08 208.47V222.22H1043.83V208.47ZM1043.83 211.22V224.97H1046.58V211.22ZM1046.58 208.47V224.97H1049.33V208.47ZM1049.33 208.47V224.97H1052.08V208.47ZM1052.08 208.47V222.22H1054.83V208.47ZM1054.83 208.47V224.97H1057.58V208.47ZM1057.58 208.47V224.97H1060.33V208.47ZM1060.33 208.47V224.97H1063.08V208.47ZM1063.08 208.47V224.97H1065.83V208.47ZM1065.83 205.72V224.97H1068.58V205.72ZM1068.58 208.47V224.97H1071.33V208.47ZM1071.33 208.47V224.97H1074.08V208.47ZM1074.08 211.22V227.72H1076.83V211.22ZM1076.83 211.22V227.72H1079.57V211.22ZM1079.57 213.97V227.72H1082.32V213.97ZM1082.32 211.22V227.72H1085.07V211.22ZM1085.07 213.97V227.72H1087.82V213.97ZM1087.82 211.22V227.72H1090.57V211.22ZM1090.57 213.97V227.72H1093.32V213.97ZM1093.32 213.97V230.47H1096.07V213.97ZM1096.07 213.97V230.47H1098.82V213.97ZM1098.82 216.72V230.47H1101.57V216.72ZM1101.57 213.97V230.47H1104.32V213.97ZM1104.32 216.72V230.47H1107.07V216.72ZM1107.07 216.72V230.47H1109.82V216.72ZM1109.82 216.72V233.22H1112.57V216.72ZM1112.57 213.97V230.47H1115.32V213.97ZM1115.32 216.72V230.47H1118.07V216.72ZM1118.07 216.72V233.22H1120.81V216.72ZM1120.81 213.97V230.47H1123.56V213.97ZM1123.56 216.72V230.47H1126.31V216.72ZM1126.31 216.72V230.47H1129.06V216.72ZM1129.06 216.72V233.22H1131.81V216.72ZM1131.81 219.47V233.22H1134.56V219.47ZM1134.56 219.47V233.22H1137.31V219.47ZM1137.31 219.47V233.22H1140.06V219.47ZM1140.06 219.47V235.97H1142.81V219.47ZM1142.81 219.47V235.97H1145.56V219.47ZM1145.56 219.47V238.72H1148.31V219.47ZM1148.31 219.47V235.97H1151.06V219.47ZM1151.06 222.22V238.72H1153.81V222.22ZM1153.81 222.22V238.72H1156.56V222.22ZM1156.56 222.22V238.72H1159.30V222.22ZM1159.30 224.97V238.72H1162.05V224.97ZM1162.05 224.97V238.72H1164.80V224.97ZM1164.80 222.22V241.46H1167.55V222.22ZM1167.55 222.22V238.72H1170.30V222.22ZM1170.30 224.97V238.72H1173.05V224.97ZM1173.05 224.97V238.72H1175.80V224.97ZM1175.80 222.22V241.46H1178.55V222.22ZM1178.55 224.97V241.46H1181.30V224.97ZM1181.30 224.97V241.46H1184.05V224.97ZM1184.05 224.97V241.46H1186.80V224.97ZM1186.80 227.72V244.21H1189.55V227.72ZM1189.55 227.72V241.46H1192.30V227.72ZM1192.30 227.72V244.21H1195.05V227.72ZM1195.05 227.72V244.21H1197.79V227.72ZM1197.79 227.72V244.21H1200.54V227.72ZM1200.54 227.72V244.21H1203.29V227.72ZM1203.29 230.47V244.21H1206.04V230.47ZM1206.04 230.47V246.96H1208.79V230.47ZM1208.79 230.47V244.21H1211.54V230.47ZM1211.54 230.47V246.96H1214.29V230.47ZM1214.29 230.47V246.96H1217.04V230.47ZM1217.04 233.22V246.96H1219.79V233.22ZM1219.79 233.22V246.96H1222.54V233.22ZM1222.54 230.47V249.71H1225.29V230.47ZM1225.29 233.22V246.96H1228.04V233.22ZM1228.04 233.22V246.96H1230.79V233.22ZM1230.79 227.72V246.96H1233.54V227.72ZM1233.54 230.47V246.96H1236.28V230.47ZM1236.28 230.47V246.96H1239.03V230.47ZM1239.03 230.47V244.21H1241.78V230.47ZM1241.78 230.47V246.96H1244.53V230.47ZM1244.53 233.22V246.96H1247.28V233.22ZM1247.28 233.22V246.96H1250.03V233.22ZM1250.03 233.22V249.71H1252.78V233.22ZM1252.78 233.22V249.71H1255.53V233.22ZM1255.53 235.97V252.46H1258.28V235.97ZM1258.28 235.97V252.46H1261.03V235.97ZM1261.03 238.72V252.46H1263.78V238.72ZM1263.78 238.72V252.46H1266.53V238.72ZM1266.53 238.72V255.21H1269.28V238.72ZM1269.28 238.72V252.46H1272.03V238.72ZM1272.03 235.97V252.46H1274.78V235.97ZM1274.78 238.72V252.46H1277.52V238.72ZM1277.52 238.72V252.46H1280.27V238.72ZM1280.27 235.97V252.46H1283.02V235.97ZM1283.02 235.97V252.46H1285.77V235.97ZM1285.77 238.72V252.46H1288.52V238.72ZM1288.52 235.97V252.46H1291.27V235.97ZM1291.27 238.72V252.46H1294.02V238.72ZM1294.02 235.97V252.46H1296.77V235.97ZM1296.77 235.97V252.46H1299.52V235.97ZM1299.52 235.97V252.46H1302.27V235.97ZM1302.27 235.97V252.46H1305.02V235.97ZM1305.02 235.97V252.46H1307.77V235.97ZM1307.77 238.72V252.46H1310.52V238.72ZM1310.52 238.72V252.46H1313.27V238.72ZM1313.27 238.72V252.46H1316.01V238.72ZM1316.01 238.72V255.21H1318.76V238.72ZM1318.76 238.72V252.46H1321.51V238.72ZM1321.51 238.72V255.21H1324.26V238.72ZM1324.26 238.72V255.21H1327.01V238.72ZM1327.01 238.72V255.21H1329.76V238.72ZM1329.76 241.46V255.21H1332.51V241.46ZM1332.51 241.46V257.96H1335.26V241.46ZM1335.26 238.72V255.21H1338.01V238.72ZM1338.01 241.46V255.21H1340.76V241.46ZM1340.76 241.46V257.96H1343.51V241.46ZM1343.51 241.46V257.96H1346.26V241.46ZM1346.26 244.21V257.96H1349.01V244.21ZM1349.01 241.46V260.71H1351.76V241.46ZM1351.76 244.21V257.96H1354.50V244.21ZM1354.50 244.21V260.71H1357.25V244.21ZM1357.25 244.21V257.96H1360.00V244.21ZM1360.00 244.21V260.71H1362.75V244.21ZM1362.75 244.21V260.71H1365.50V244.21ZM1365.50 246.96V260.71H1368.25V246.96ZM1368.25 246.96V260.71H1371.00V246.96ZM1371.00 246.96V263.46H1373.75V246.96ZM1373.75 246.96V266.21H1376.50V246.96ZM1376.50 246.96V263.46H1379.25V246.96ZM1379.25 246.96V263.46H1382.00V246.96ZM1382.00 249.71V263.46H1384.75V249.71ZM1384.75 246.96V263.46H1387.50V246.96ZM1387.50 249.71V263.46H1390.25V249.71ZM1390.25 249.71V263.46H1393.00V249.71ZM1393.00 249.71V266.21H1395.74V249.71ZM1395.74 249.71V266.21H1398.49V249.71ZM1398.49 249.71V263.46H1401.24V249.71ZM1401.24 249.71V266.21H1403.99V249.71ZM1403.99 249.71V266.21H1406.74V249.71ZM1406.74 246.96V266.21H1409.49V246.96ZM1409.49 252.46V266.21H1412.24V252.46ZM1412.24 252.46V266.21H1414.99V252.46ZM1414.99 249.71V268.96H1417.74V249.71ZM1417.74 252.46V266.21H1420.49V252.46ZM1420.49 252.46V266.21H1423.24V252.46ZM1423.24 252.46V266.21H1425.99V252.46ZM1425.99 252.46V266.21H1428.74V252.46ZM1428.74 252.46V266.21H1431.49V252.46ZM1431.49 252.46V266.21H1434.23V252.46ZM1434.23 252.46V268.96H1436.98V252.46ZM1436.98 252.46V268.96H1439.73V252.46ZM1439.73 252.46V268.96H1442.48V252.46ZM1442.48 252.46V268.96H1445.23V252.46ZM1445.23 252.46V268.96H1447.98V252.46ZM1447.98 255.21V268.96H1450.73V255.21ZM1450.73 255.21V268.96H1453.48V255.21ZM1453.48 252.46V268.96H1456.23V252.46ZM1456.23 255.21V271.71H1458.98V255.21ZM1458.98 252.46V268.96H1461.73V252.46ZM1461.73 255.21V271.71H1464.48V255.21ZM1464.48 252.46V268.96H1467.23V252.46ZM1467.23 246.96V266.21H1469.98V246.96ZM1469.98 244.21V266.21H1472.72V244.21ZM1472.72 238.72V263.46H1475.47V238.72ZM1475.47 233.22V260.71H1478.22V233.22ZM1478.22 230.47V255.21H1480.97V230.47ZM1480.97 224.97V252.46H1483.72V224.97ZM1483.72 219.47V246.96H1486.47V219.47ZM1486.47 213.97V244.21H1489.22V213.97ZM1489.22 211.22V238.72H1491.97V211.22ZM1491.97 205.72V233.22H1494.72V205.72ZM1494.72 202.97V227.72H1497.47V202.97ZM1497.47 200.22V222.22H1500.22V200.22ZM1500.22 197.47V219.47H1502.97V197.47ZM1502.97 194.72V213.97H1505.72V194.72ZM1505.72 191.97V211.22H1508.47V191.97ZM1508.47 191.97V208.47H1511.21V191.97ZM1511.21 189.22V205.72H1513.96V189.22ZM1513.96 189.22V205.72H1516.71V189.22ZM1516.71 186.47V202.97H1519.46V186.47ZM1519.46 186.47V202.97H1522.21V186.47ZM1522.21 186.47V200.22H1524.96V186.47ZM1524.96 186.47V200.22H1527.71V186.47ZM1527.71 186.47V200.22H1530.46V186.47ZM1530.46 186.47V200.22H1533.21V186.47ZM1533.21 183.72V200.22H1535.96V183.72ZM1535.96 183.72V200.22H1538.71V183.72ZM1538.71 186.47V200.22H1541.46V186.47ZM1541.46 183.72V200.22H1544.21V183.72ZM1544.21 186.47V200.22H1546.96V186.47ZM1546.96 183.72V200.22H1549.71V183.72ZM1549.71 183.72V200.22H1552.45V183.72ZM1552.45 183.72V200.22H1555.20V183.72ZM1555.20 183.72V200.22H1557.95V183.72ZM1557.95 183.72V200.22H1560.70V183.72ZM1560.70 186.47V200.22H1563.45V186.47ZM1563.45 186.47V200.22H1566.20V186.47ZM1566.20 183.72V200.22H1568.95V183.72ZM1568.95 186.47V200.22H1571.70V186.47ZM1571.70 186.47V200.22H1574.45V186.47ZM1574.45 183.72V200.22H1577.20V183.72ZM1577.20 183.72V200.22H1579.95V183.72ZM1579.95 183.72V202.97H1582.70V183.72ZM1582.70 186.47V200.22H1585.45V186.47ZM1585.45 186.47V200.22H1588.20V186.47ZM1588.20 186.47V200.22H1590.94V186.47ZM1590.94 186.47V200.22H1593.69V186.47ZM1593.69 186.47V200.22H1596.44V186.47ZM1596.44 183.72V200.22H1599.19V183.72ZM1599.19 183.72V200.22H1601.94V183.72ZM1601.94 186.47V200.22H1604.69V186.47ZM1604.69 183.72V200.22H1607.44V183.72ZM1607.44 186.47V200.22H1610.19V186.47ZM1610.19 186.47V202.97H1612.94V186.47ZM1612.94 189.22V205.72H1615.69V189.22ZM1615.69 189.22V202.97H1618.44V189.22ZM1618.44 189.22V202.97H1621.19V189.22ZM1621.19 189.22V205.72H1623.94V189.22ZM1623.94 186.47V205.72H1626.69V186.47ZM1626.69 191.97V208.47H1629.43V191.97ZM1629.43 189.22V205.72H1632.18V189.22ZM1632.18 191.97V208.47H1634.93V191.97ZM1634.93 191.97V208.47H1637.68V191.97ZM1637.68 194.72V208.47H1640.43V194.72ZM1640.43 194.72V208.47H1643.18V194.72ZM1643.18 191.97V208.47H1645.93V191.97ZM1645.93 191.97V208.47H1648.68V191.97ZM1648.68 194.72V211.22H1651.43V194.72ZM1651.43 194.72V211.22H1654.18V194.72ZM1654.18 194.72V211.22H1656.93V194.72ZM1656.93 194.72V211.22H1659.68V194.72ZM1659.68 194.72V211.22H1662.43V194.72ZM1662.43 194.72V211.22H1665.18V194.72ZM1665.18 197.47V211.22H1667.93V197.47ZM1667.93 194.72V211.22H1670.67V194.72ZM1670.67 194.72V211.22H1673.42V194.72ZM1673.42 197.47V211.22H1676.17V197.47ZM1676.17 197.47V211.22H1678.92V197.47ZM1678.92 194.72V213.97H1681.67V194.72ZM1681.67 197.47V211.22H1684.42V197.47ZM1684.42 194.72V211.22H1687.17V194.72ZM1687.17 197.47V211.22H1689.92V197.47ZM1689.92 197.47V211.22H1692.67V197.47ZM1692.67 197.47V211.22H1695.42V197.47ZM1695.42 194.72V211.22H1698.17V194.72ZM1698.17 197.47V211.22H1700.92V197.47ZM1700.92 194.72V211.22H1703.67V194.72ZM1703.67 194.72V211.22H1706.42V194.72ZM1706.42 197.47V211.22H1709.16V197.47ZM1709.16 197.47V211.22H1711.91V197.47ZM1711.91 194.72V211.22H1714.66V194.72ZM1714.66 197.47V213.97H1717.41V197.47ZM1717.41 197.47V213.97H1720.16V197.47ZM1720.16 200.22V213.97H1722.91V200.22ZM1722.91 200.22V213.97H1725.66V200.22ZM1725.66 197.47V216.72H1728.41V197.47ZM1728.41 200.22V216.72H1731.16V200.22ZM1731.16 200.22V216.72H1733.91V200.22ZM1733.91 200.22V216.72H1736.66V200.22ZM1736.66 202.97V219.47H1739.41V202.97ZM1739.41 202.97V216.72H1742.16V202.97ZM1742.16 202.97V219.47H1744.91V202.97ZM1744.91 202.97V219.47H1747.65V202.97ZM1747.65 202.97V219.47H1750.40V202.97ZM1750.40 205.72V222.22H1753.15V205.72ZM1753.15 205.72V219.47H1755.90V205.72ZM1755.90 208.47V222.22H1758.65V208.47ZM1758.65 208.47V222.22H1761.40V208.47ZM1761.40 208.47V222.22H1764.15V208.47ZM1764.15 208.47V222.22H1766.90V208.47ZM1766.90 208.47V224.97H1769.65V208.47ZM1769.65 211.22V224.97H1772.40V211.22ZM1772.40 211.22V227.72H1775.15V211.22ZM1775.15 211.22V227.72H1777.90V211.22ZM1777.90 211.22V224.97H1780.65V211.22ZM1780.65 211.22V224.97H1783.40V211.22ZM1783.40 211.22V224.97H1786.14V211.22ZM1786.14 208.47V224.97H1788.89V208.47ZM1788.89 211.22V227.72H1791.64V211.22ZM1791.64 211.22V227.72H1794.39V211.22ZM1794.39 211.22V224.97H1797.14V211.22ZM1797.14 211.22V227.72H1799.89V211.22ZM1799.89 211.22V224.97H1802.64V211.22ZM1802.64 211.22V224.97H1805.39V211.22ZM1805.39 211.22V227.72H1808.14V211.22ZM1808.14 211.22V224.97H1810.89V211.22ZM1810.89 208.47V224.97H1813.64V208.47ZM1813.64 208.47V224.97H1816.39V208.47ZM1816.39 211.22V224.97H1819.14V211.22ZM1819.14 211.22V224.97H1821.89V211.22ZM1821.89 208.47V224.97H1824.64V208.47ZM1824.64 208.47V227.72H1827.38V208.47ZM1827.38 211.22V224.97H1830.13V211.22ZM1830.13 211.22V227.72H1832.88V211.22ZM1832.88 211.22V230.47H1835.63V211.22ZM1835.63 213.97V227.72H1838.38V213.97ZM1838.38 211.22V230.47H1841.13V211.22ZM1841.13 213.97V227.72H1843.88V213.97ZM1843.88 213.97V227.72H1846.63V213.97ZM1846.63 213.97V230.47H1849.38V213.97ZM1849.38 213.97V230.47H1852.13V213.97ZM1852.13 213.97V230.47H1854.88V213.97ZM1854.88 213.97V230.47H1857.63V213.97ZM1857.63 213.97V230.47H1860.38V213.97ZM1860.38 216.72V230.47H1863.13V216.72ZM1863.13 216.72V233.22H1865.87V216.72ZM1865.87 213.97V230.47H1868.62V213.97ZM1868.62 216.72V230.47H1871.37V216.72ZM1871.37 213.97V230.47H1874.12V213.97ZM1874.12 216.72V230.47H1876.87V216.72ZM1876.87 216.72V230.47H1879.62V216.72ZM1879.62 213.97V230.47H1882.37V213.97ZM1882.37 216.72V230.47H1885.12V216.72ZM1885.12 216.72V230.47H1887.87V216.72ZM1887.87 216.72V233.22H1890.62V216.72ZM1890.62 216.72V235.97H1893.37V216.72ZM1893.37 216.72V233.22H1896.12V216.72ZM1896.12 219.47V235.97H1898.87V219.47ZM1898.87 219.47V233.22H1901.62V219.47ZM1901.62 219.47V233.22H1904.36V219.47ZM1904.36 219.47V235.97H1907.11V219.47ZM1907.11 219.47V235.97H1909.86V219.47ZM1909.86 219.47V235.97H1912.61V219.47ZM1912.61 219.47V235.97H1915.36V219.47ZM1915.36 222.22V238.72H1918.11V222.22ZM1918.11 219.47V235.97H1920.86V219.47ZM1920.86 219.47V238.72H1923.61V219.47ZM1923.61 222.22V235.97H1926.36V222.22ZM1926.36 222.22V238.72H1929.11V222.22ZM1929.11 222.22V238.72H1931.86V222.22ZM1931.86 224.97V241.46H1934.61V224.97ZM1934.61 224.97V241.46H1937.36V224.97ZM1937.36 224.97V241.46H1940.11V224.97ZM1940.11 222.22V238.72H1942.86V222.22ZM1942.86 224.97V241.46H1945.60V224.97ZM1945.60 224.97V241.46H1948.35V224.97ZM1948.35 227.72V241.46H1951.10V227.72ZM1951.10 224.97V241.46H1953.85V224.97ZM1953.85 227.72V244.21H1956.60V227.72ZM1956.60 227.72V244.21H1959.35V227.72ZM1959.35 227.72V241.46H1962.10V227.72ZM1962.10 230.47V241.46H1964.85V230.47ZM1964.85 233.22V238.72H1967.60V233.22Z"/>
</g>
<!-- axes box -->
<rect x="212.35" y="20.25" width="1940.9" height="1509.15" fill="none" stroke="#000" stroke-width="2.9"/>
<!-- tick labels -->
<g class="tk">
<text transform="translate(194.7,1550.2) scale(1,1.040)" text-anchor="end">25</text><text transform="translate(194.7,1298.5) scale(1,1.040)" text-anchor="end">30</text><text transform="translate(194.7,1048.8) scale(1,1.040)" text-anchor="end">35</text><text transform="translate(194.7,797.4) scale(1,1.040)" text-anchor="end">40</text><text transform="translate(194.7,544.9) scale(1,1.040)" text-anchor="end">45</text><text transform="translate(194.7,293.8) scale(1,1.040)" text-anchor="end">50</text><text transform="translate(194.7,42.6) scale(1,1.040)" text-anchor="end">55</text>
<text transform="translate(212.3,1600.0) scale(1,1.040)" text-anchor="middle">0</text><text transform="translate(697.6,1600.0) scale(1,1.040)" text-anchor="middle">500</text><text transform="translate(1182.8,1600.0) scale(1,1.040)" text-anchor="middle">1000</text><text transform="translate(1668.0,1600.0) scale(1,1.040)" text-anchor="middle">1500</text><text transform="translate(2153.2,1600.0) scale(1,1.040)" text-anchor="middle">2000</text>
</g>
<!-- axis labels -->
<text class="lb" transform="translate(0,1682.4) scale(1,1.02)" x="1043.5 1086.9 1107.9 1170.6 1210.6 1230.2 1255.0 1296.3">Time (s)</text>
<text class="lb" transform="translate(85.8,1064.4) rotate(-90) scale(1,1.02)" x="-2.0 40.7 81.8 145.2 188.3 230.2 255.1 298.2 321.1 365.3 391.9 431.9 450.4 473.9 503.0 557.0" y="0 0 0 0 0 0 0 0 0 0 0 0 0 2.8 0 0">Temperature (<tspan class="deg">°</tspan>C)</text>
<!-- legend -->
<rect x="1731" y="1142.7" width="375.7" height="350.5" fill="#fff" stroke="#000" stroke-width="3"/>
<g filter="url(#soft)">
<rect x="1767.05" y="1198.3" width="179.95" height="2.9" fill="#008000" opacity="0.4"/>
<rect x="1767.05" y="1201" width="179.95" height="13.5" fill="#008000"/>
<rect x="1767.05" y="1323.8" width="179.95" height="2.3" fill="#0086CA" opacity="0.3"/>
<rect x="1767.05" y="1309.9" width="179.95" height="14.1" fill="#0086CA"/>
<rect x="1767.05" y="1419.3" width="179.95" height="2.7" fill="#FA2600" opacity="0.1"/>
<rect x="1767.05" y="1421.8" width="179.95" height="13.2" fill="#FA2600"/>
</g>
<text class="lg" transform="translate(0,1214.4) scale(1,1.035)" x="1964.5" y="0">T<tspan class="sub" x="2001.6" y="29.0">R</tspan></text>
<text class="lg" transform="translate(0,1325.9) scale(1,1.035)" x="1964.5" y="0">T<tspan class="sub" x="2001.6" y="29.0">in</tspan></text>
<text class="lg" transform="translate(0,1435.3) scale(1,1.035)" x="1964.5" y="0">T<tspan class="sub" x="2001.6" y="28.7">out</tspan></text>
</svg>
</body>
</html>
